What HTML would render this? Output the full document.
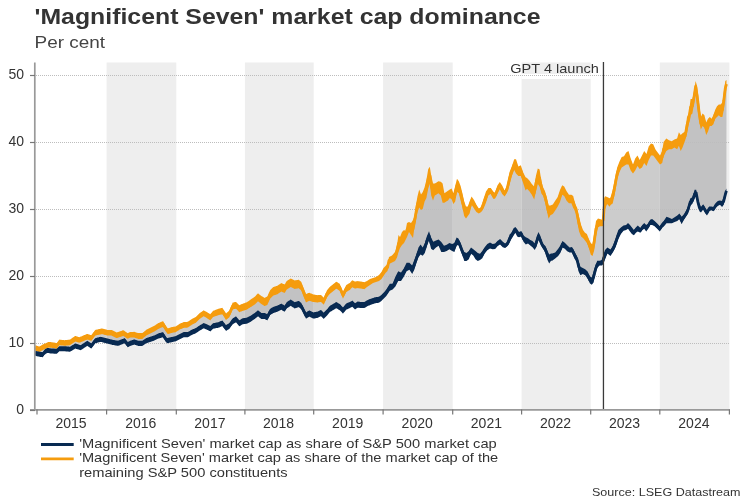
<!DOCTYPE html>
<html><head><meta charset="utf-8"><style>
html,body{margin:0;padding:0;background:#fff;}
body{width:750px;height:500px;overflow:hidden;position:relative;}
svg{position:absolute;left:0;top:0;will-change:transform;}
text{font-family:"Liberation Sans",Arial,sans-serif;}
</style></head><body>
<svg width="750" height="500" viewBox="0 0 750 500">
<rect width="750" height="500" fill="#fff"/>
<text x="34.5" y="23.8" font-size="22.5" font-weight="bold" fill="#333" textLength="506" lengthAdjust="spacingAndGlyphs">'Magnificent Seven' market cap dominance</text>
<text x="34.5" y="47.6" font-size="16.3" fill="#444" textLength="70.5" lengthAdjust="spacingAndGlyphs">Per cent</text>
<rect x="106.6" y="62.5" width="69.7" height="347.0" fill="#eeeeee"/>
<rect x="244.9" y="62.5" width="68.8" height="347.0" fill="#eeeeee"/>
<rect x="383.1" y="62.5" width="69.6" height="347.0" fill="#eeeeee"/>
<rect x="521.6" y="62.5" width="69.1" height="347.0" fill="#eeeeee"/>
<rect x="659.8" y="62.5" width="69.6" height="347.0" fill="#eeeeee"/>

<rect x="521.6" y="74" width="69.1" height="5" fill="#fff"/>
<line x1="36" y1="343.5" x2="730" y2="343.5" stroke="#bdbdbd" stroke-width="1" stroke-dasharray="1,1"/>
<line x1="36" y1="276.5" x2="730" y2="276.5" stroke="#bdbdbd" stroke-width="1" stroke-dasharray="1,1"/>
<line x1="36" y1="209.5" x2="730" y2="209.5" stroke="#bdbdbd" stroke-width="1" stroke-dasharray="1,1"/>
<line x1="36" y1="142.5" x2="730" y2="142.5" stroke="#bdbdbd" stroke-width="1" stroke-dasharray="1,1"/>
<line x1="36" y1="75.5" x2="730" y2="75.5" stroke="#bdbdbd" stroke-width="1" stroke-dasharray="1,1"/>

<defs>
<clipPath id="cb"><rect x="106.6" y="0" width="69.7" height="500"/><rect x="244.9" y="0" width="68.8" height="500"/><rect x="383.1" y="0" width="69.6" height="500"/><rect x="521.6" y="0" width="69.1" height="500"/><rect x="659.8" y="0" width="69.6" height="500"/></clipPath>
<clipPath id="cw"><rect x="0.0" y="0" width="106.6" height="500"/><rect x="176.3" y="0" width="68.6" height="500"/><rect x="313.7" y="0" width="69.4" height="500"/><rect x="452.7" y="0" width="68.9" height="500"/><rect x="590.7" y="0" width="69.1" height="500"/><rect x="729.4" y="0" width="20.6" height="500"/></clipPath>
</defs>
<polygon points="35.3,348.0 39.3,349.3 43.3,347.0 48.7,344.7 54.0,345.3 56.7,346.0 59.3,342.4 64.7,343.0 70.0,342.4 75.3,338.7 79.3,340.0 87.3,336.7 91.3,338.0 95.3,332.7 102.0,331.3 107.3,332.7 111.3,332.7 116.7,335.3 123.3,333.0 127.7,336.0 130.3,334.7 134.3,334.7 138.3,336.0 142.3,336.0 146.3,332.7 150.3,330.7 154.3,328.7 158.3,326.0 163.0,324.0 165.0,327.3 167.7,331.3 171.7,330.0 175.7,329.3 179.7,326.7 183.7,325.0 187.7,324.7 191.7,322.0 195.7,320.0 199.7,316.0 203.7,313.3 206.3,314.7 210.3,317.3 213.0,314.0 218.3,312.0 222.3,311.0 226.0,316.7 229.3,314.0 232.7,306.0 236.0,305.3 239.3,308.7 242.7,307.3 246.7,306.0 250.7,303.3 254.7,300.7 258.0,297.3 261.3,300.0 264.7,302.0 267.3,300.7 270.0,294.7 273.3,291.3 277.3,290.0 281.3,287.3 284.7,288.7 286.7,285.3 290.7,282.7 294.7,284.7 298.7,284.0 301.3,286.2 303.3,291.5 306.0,298.2 309.3,296.8 313.3,298.2 317.3,298.8 321.0,298.5 323.7,301.2 327.0,293.8 329.7,290.5 333.0,287.8 336.3,285.2 339.7,287.2 343.0,295.2 346.3,288.5 349.7,286.5 352.3,283.7 355.0,285.0 357.7,284.6 361.0,285.0 364.3,285.7 367.0,284.0 370.0,282.0 373.0,280.5 376.0,279.5 379.0,278.0 381.5,275.5 383.5,272.0 385.5,269.5 387.5,267.5 389.0,260.5 392.0,259.0 395.0,256.5 397.0,251.2 398.5,243.5 400.0,242.5 402.0,238.5 404.0,236.5 405.5,235.5 407.0,230.0 409.0,227.0 411.0,229.0 413.0,229.0 414.5,221.5 416.0,212.5 417.4,204.6 419.2,198.6 421.0,202.2 422.8,200.4 424.6,194.4 426.4,189.0 428.2,178.8 429.8,175.2 431.2,185.4 433.0,192.0 434.8,189.6 436.6,188.4 438.4,187.2 440.8,188.7 442.6,193.2 444.4,198.0 446.2,196.8 448.0,195.6 449.8,193.8 451.6,193.8 453.4,198.6 455.2,193.8 457.0,185.4 458.8,187.2 460.6,193.2 462.4,200.4 464.2,208.8 466.0,212.4 467.8,211.2 469.6,207.6 471.6,200.6 474.0,204.2 476.4,208.4 478.8,210.9 481.2,209.6 483.6,203.6 486.0,197.0 488.4,191.6 490.8,191.0 493.2,195.2 495.0,195.8 497.4,189.8 499.8,185.6 502.2,189.8 504.6,193.4 507.0,189.2 509.4,179.0 511.8,171.2 514.2,164.6 516.0,166.4 518.4,171.2 520.8,170.6 523.2,177.8 525.6,183.8 527.0,183.4 529.4,185.8 531.8,189.4 534.2,193.0 536.0,183.4 537.8,176.2 539.6,178.0 541.4,187.6 543.2,191.8 545.0,196.6 546.8,203.8 548.6,212.2 550.4,210.4 552.8,209.2 555.2,205.6 557.6,202.0 560.0,196.0 562.2,190.0 564.2,191.2 566.6,196.0 569.0,199.0 571.4,199.0 573.2,202.0 575.6,208.6 577.2,214.5 579.1,224.2 581.1,230.8 583.0,233.9 585.0,236.6 586.9,238.5 588.9,243.7 590.8,248.8 592.5,250.2 594.1,242.4 596.0,228.8 598.0,222.9 599.9,222.6 601.9,222.9 603.2,220.0 604.2,207.0 605.1,202.8 607.1,200.6 609.7,202.4 610.5,201.2 612.7,196.8 615.0,185.5 617.2,173.5 619.5,166.8 621.7,162.2 624.0,161.1 626.2,158.5 628.5,157.8 630.7,164.5 633.0,169.0 635.2,164.5 637.5,160.8 639.7,164.5 642.0,161.5 644.2,157.0 646.5,160.0 648.7,153.2 651.0,149.5 653.2,149.8 655.5,154.0 657.7,157.0 660.0,160.0 662.2,157.0 663.6,149.3 666.3,144.8 669.0,144.8 671.7,145.2 674.4,143.4 677.1,143.9 678.9,139.0 680.7,143.1 682.5,140.3 685.2,135.9 687.0,125.1 688.8,118.8 690.6,107.1 692.4,106.2 694.2,96.3 695.6,86.4 697.2,96.3 699.0,111.6 700.8,123.3 702.6,119.7 704.4,121.5 706.2,128.7 708.0,125.1 709.8,121.5 711.6,122.4 713.4,119.7 715.2,114.3 717.0,111.6 718.8,109.8 720.6,110.7 722.4,109.8 723.8,100.8 725.3,88.2 726.5,84.2 726.4,190.8 725.3,194.6 723.7,201.1 722.1,204.1 719.9,202.7 717.8,203.5 715.6,205.6 713.5,209.2 711.3,208.3 709.1,208.9 707.0,212.9 705.4,210.8 703.2,206.8 701.0,209.7 699.4,207.6 697.8,201.6 696.2,192.9 694.6,194.1 692.4,200.6 690.2,202.2 688.1,209.7 685.9,214.0 683.8,217.3 681.6,220.5 679.4,216.2 677.3,218.3 674.6,219.7 671.9,221.1 669.2,220.5 666.5,219.9 663.8,223.7 662.4,224.9 659.8,228.8 657.2,226.2 654.6,223.6 652.1,221.9 650.1,222.3 648.2,226.2 646.2,228.2 644.3,225.9 642.3,227.5 640.4,230.4 637.8,228.4 635.8,230.1 633.9,232.7 631.9,230.8 630.0,228.2 628.0,225.9 626.1,227.5 623.5,228.1 620.9,230.8 618.3,234.6 615.7,242.4 613.1,248.8 610.5,252.8 607.4,250.6 605.0,254.8 603.3,259.5 602.0,262.8 599.6,263.2 597.2,264.4 595.4,269.8 593.6,277.0 591.8,281.2 590.0,280.0 587.6,275.2 585.2,272.2 582.8,271.0 580.4,271.0 578.6,266.2 576.8,259.0 574.4,254.8 572.0,249.7 569.6,250.0 567.2,248.2 564.8,245.8 562.4,244.3 560.6,248.8 558.2,252.4 555.2,255.4 552.2,257.2 551.0,257.1 549.2,258.9 547.4,255.3 545.6,249.9 543.8,247.2 542.0,244.5 540.2,239.6 538.4,235.9 536.6,241.8 534.8,246.8 532.5,244.1 530.3,242.7 528.0,240.9 525.8,240.9 523.5,238.7 521.3,233.7 519.0,234.6 517.2,232.8 515.4,229.9 513.6,231.9 511.4,235.9 509.6,238.6 507.3,244.1 505.1,245.8 502.8,244.5 500.1,241.8 497.4,243.6 495.2,246.3 492.7,246.6 490.0,245.5 487.3,247.1 484.5,250.7 482.3,254.7 480.0,257.0 477.8,256.9 475.5,255.1 473.3,252.4 471.0,250.7 468.8,255.1 466.5,256.9 464.3,256.5 462.5,252.0 460.7,247.1 458.4,241.7 456.6,241.6 454.4,247.5 452.1,247.5 449.4,246.2 446.7,247.9 444.0,248.8 441.3,247.1 438.6,242.6 436.0,243.9 433.2,246.0 431.1,243.2 429.0,235.9 426.9,241.1 424.8,248.1 422.7,251.6 420.6,249.5 418.5,252.3 416.4,258.6 414.3,264.9 412.2,269.8 409.4,266.3 406.6,267.0 403.8,272.6 401.0,276.8 398.2,276.1 395.4,281.7 392.6,286.6 389.8,287.3 386.3,292.8 384.3,295.0 381.7,297.7 379.0,299.7 375.0,300.3 371.0,301.7 367.7,303.0 364.3,305.0 361.0,305.0 357.7,304.6 355.0,306.3 352.3,303.7 349.7,305.1 346.3,306.5 343.0,310.5 339.7,307.1 336.3,305.1 333.0,307.1 329.7,309.1 327.0,312.5 323.7,315.8 321.0,313.1 317.3,314.8 313.3,315.5 309.3,313.5 306.0,315.5 303.3,310.1 301.3,306.1 298.7,304.0 294.7,305.3 290.7,302.7 286.7,305.3 284.7,308.7 281.3,306.7 277.3,308.7 273.3,310.0 270.0,312.0 267.3,317.3 264.7,316.0 261.3,316.0 258.0,313.3 254.7,316.0 250.7,318.7 246.7,320.7 242.7,321.3 239.3,323.3 236.0,319.3 232.7,321.3 229.3,326.0 226.0,328.0 222.3,323.3 218.3,325.0 213.0,326.0 210.3,328.7 206.3,326.7 203.7,325.7 199.7,328.0 195.7,330.7 191.7,332.4 187.7,334.7 183.7,334.7 179.7,336.7 175.7,338.7 171.7,339.6 167.0,340.7 165.0,338.0 163.0,334.7 158.3,336.0 154.3,338.0 150.3,339.3 146.3,340.7 142.3,343.3 138.3,343.3 134.3,342.0 130.3,343.3 127.7,344.7 124.7,340.7 118.0,343.3 112.7,342.4 107.3,341.0 100.7,339.3 95.3,340.7 91.3,346.0 87.3,343.3 80.7,347.7 75.3,346.0 70.0,349.3 64.7,348.7 59.3,348.7 56.7,351.3 51.3,351.0 47.3,350.4 44.7,352.0 42.7,354.7 38.0,354.0 35.3,353.3" fill="#c6c6c7" fill-opacity="0.9" clip-path="url(#cw)"/>
<polygon points="35.3,348.0 39.3,349.3 43.3,347.0 48.7,344.7 54.0,345.3 56.7,346.0 59.3,342.4 64.7,343.0 70.0,342.4 75.3,338.7 79.3,340.0 87.3,336.7 91.3,338.0 95.3,332.7 102.0,331.3 107.3,332.7 111.3,332.7 116.7,335.3 123.3,333.0 127.7,336.0 130.3,334.7 134.3,334.7 138.3,336.0 142.3,336.0 146.3,332.7 150.3,330.7 154.3,328.7 158.3,326.0 163.0,324.0 165.0,327.3 167.7,331.3 171.7,330.0 175.7,329.3 179.7,326.7 183.7,325.0 187.7,324.7 191.7,322.0 195.7,320.0 199.7,316.0 203.7,313.3 206.3,314.7 210.3,317.3 213.0,314.0 218.3,312.0 222.3,311.0 226.0,316.7 229.3,314.0 232.7,306.0 236.0,305.3 239.3,308.7 242.7,307.3 246.7,306.0 250.7,303.3 254.7,300.7 258.0,297.3 261.3,300.0 264.7,302.0 267.3,300.7 270.0,294.7 273.3,291.3 277.3,290.0 281.3,287.3 284.7,288.7 286.7,285.3 290.7,282.7 294.7,284.7 298.7,284.0 301.3,286.2 303.3,291.5 306.0,298.2 309.3,296.8 313.3,298.2 317.3,298.8 321.0,298.5 323.7,301.2 327.0,293.8 329.7,290.5 333.0,287.8 336.3,285.2 339.7,287.2 343.0,295.2 346.3,288.5 349.7,286.5 352.3,283.7 355.0,285.0 357.7,284.6 361.0,285.0 364.3,285.7 367.0,284.0 370.0,282.0 373.0,280.5 376.0,279.5 379.0,278.0 381.5,275.5 383.5,272.0 385.5,269.5 387.5,267.5 389.0,260.5 392.0,259.0 395.0,256.5 397.0,251.2 398.5,243.5 400.0,242.5 402.0,238.5 404.0,236.5 405.5,235.5 407.0,230.0 409.0,227.0 411.0,229.0 413.0,229.0 414.5,221.5 416.0,212.5 417.4,204.6 419.2,198.6 421.0,202.2 422.8,200.4 424.6,194.4 426.4,189.0 428.2,178.8 429.8,175.2 431.2,185.4 433.0,192.0 434.8,189.6 436.6,188.4 438.4,187.2 440.8,188.7 442.6,193.2 444.4,198.0 446.2,196.8 448.0,195.6 449.8,193.8 451.6,193.8 453.4,198.6 455.2,193.8 457.0,185.4 458.8,187.2 460.6,193.2 462.4,200.4 464.2,208.8 466.0,212.4 467.8,211.2 469.6,207.6 471.6,200.6 474.0,204.2 476.4,208.4 478.8,210.9 481.2,209.6 483.6,203.6 486.0,197.0 488.4,191.6 490.8,191.0 493.2,195.2 495.0,195.8 497.4,189.8 499.8,185.6 502.2,189.8 504.6,193.4 507.0,189.2 509.4,179.0 511.8,171.2 514.2,164.6 516.0,166.4 518.4,171.2 520.8,170.6 523.2,177.8 525.6,183.8 527.0,183.4 529.4,185.8 531.8,189.4 534.2,193.0 536.0,183.4 537.8,176.2 539.6,178.0 541.4,187.6 543.2,191.8 545.0,196.6 546.8,203.8 548.6,212.2 550.4,210.4 552.8,209.2 555.2,205.6 557.6,202.0 560.0,196.0 562.2,190.0 564.2,191.2 566.6,196.0 569.0,199.0 571.4,199.0 573.2,202.0 575.6,208.6 577.2,214.5 579.1,224.2 581.1,230.8 583.0,233.9 585.0,236.6 586.9,238.5 588.9,243.7 590.8,248.8 592.5,250.2 594.1,242.4 596.0,228.8 598.0,222.9 599.9,222.6 601.9,222.9 603.2,220.0 604.2,207.0 605.1,202.8 607.1,200.6 609.7,202.4 610.5,201.2 612.7,196.8 615.0,185.5 617.2,173.5 619.5,166.8 621.7,162.2 624.0,161.1 626.2,158.5 628.5,157.8 630.7,164.5 633.0,169.0 635.2,164.5 637.5,160.8 639.7,164.5 642.0,161.5 644.2,157.0 646.5,160.0 648.7,153.2 651.0,149.5 653.2,149.8 655.5,154.0 657.7,157.0 660.0,160.0 662.2,157.0 663.6,149.3 666.3,144.8 669.0,144.8 671.7,145.2 674.4,143.4 677.1,143.9 678.9,139.0 680.7,143.1 682.5,140.3 685.2,135.9 687.0,125.1 688.8,118.8 690.6,107.1 692.4,106.2 694.2,96.3 695.6,86.4 697.2,96.3 699.0,111.6 700.8,123.3 702.6,119.7 704.4,121.5 706.2,128.7 708.0,125.1 709.8,121.5 711.6,122.4 713.4,119.7 715.2,114.3 717.0,111.6 718.8,109.8 720.6,110.7 722.4,109.8 723.8,100.8 725.3,88.2 726.5,84.2 726.4,190.8 725.3,194.6 723.7,201.1 722.1,204.1 719.9,202.7 717.8,203.5 715.6,205.6 713.5,209.2 711.3,208.3 709.1,208.9 707.0,212.9 705.4,210.8 703.2,206.8 701.0,209.7 699.4,207.6 697.8,201.6 696.2,192.9 694.6,194.1 692.4,200.6 690.2,202.2 688.1,209.7 685.9,214.0 683.8,217.3 681.6,220.5 679.4,216.2 677.3,218.3 674.6,219.7 671.9,221.1 669.2,220.5 666.5,219.9 663.8,223.7 662.4,224.9 659.8,228.8 657.2,226.2 654.6,223.6 652.1,221.9 650.1,222.3 648.2,226.2 646.2,228.2 644.3,225.9 642.3,227.5 640.4,230.4 637.8,228.4 635.8,230.1 633.9,232.7 631.9,230.8 630.0,228.2 628.0,225.9 626.1,227.5 623.5,228.1 620.9,230.8 618.3,234.6 615.7,242.4 613.1,248.8 610.5,252.8 607.4,250.6 605.0,254.8 603.3,259.5 602.0,262.8 599.6,263.2 597.2,264.4 595.4,269.8 593.6,277.0 591.8,281.2 590.0,280.0 587.6,275.2 585.2,272.2 582.8,271.0 580.4,271.0 578.6,266.2 576.8,259.0 574.4,254.8 572.0,249.7 569.6,250.0 567.2,248.2 564.8,245.8 562.4,244.3 560.6,248.8 558.2,252.4 555.2,255.4 552.2,257.2 551.0,257.1 549.2,258.9 547.4,255.3 545.6,249.9 543.8,247.2 542.0,244.5 540.2,239.6 538.4,235.9 536.6,241.8 534.8,246.8 532.5,244.1 530.3,242.7 528.0,240.9 525.8,240.9 523.5,238.7 521.3,233.7 519.0,234.6 517.2,232.8 515.4,229.9 513.6,231.9 511.4,235.9 509.6,238.6 507.3,244.1 505.1,245.8 502.8,244.5 500.1,241.8 497.4,243.6 495.2,246.3 492.7,246.6 490.0,245.5 487.3,247.1 484.5,250.7 482.3,254.7 480.0,257.0 477.8,256.9 475.5,255.1 473.3,252.4 471.0,250.7 468.8,255.1 466.5,256.9 464.3,256.5 462.5,252.0 460.7,247.1 458.4,241.7 456.6,241.6 454.4,247.5 452.1,247.5 449.4,246.2 446.7,247.9 444.0,248.8 441.3,247.1 438.6,242.6 436.0,243.9 433.2,246.0 431.1,243.2 429.0,235.9 426.9,241.1 424.8,248.1 422.7,251.6 420.6,249.5 418.5,252.3 416.4,258.6 414.3,264.9 412.2,269.8 409.4,266.3 406.6,267.0 403.8,272.6 401.0,276.8 398.2,276.1 395.4,281.7 392.6,286.6 389.8,287.3 386.3,292.8 384.3,295.0 381.7,297.7 379.0,299.7 375.0,300.3 371.0,301.7 367.7,303.0 364.3,305.0 361.0,305.0 357.7,304.6 355.0,306.3 352.3,303.7 349.7,305.1 346.3,306.5 343.0,310.5 339.7,307.1 336.3,305.1 333.0,307.1 329.7,309.1 327.0,312.5 323.7,315.8 321.0,313.1 317.3,314.8 313.3,315.5 309.3,313.5 306.0,315.5 303.3,310.1 301.3,306.1 298.7,304.0 294.7,305.3 290.7,302.7 286.7,305.3 284.7,308.7 281.3,306.7 277.3,308.7 273.3,310.0 270.0,312.0 267.3,317.3 264.7,316.0 261.3,316.0 258.0,313.3 254.7,316.0 250.7,318.7 246.7,320.7 242.7,321.3 239.3,323.3 236.0,319.3 232.7,321.3 229.3,326.0 226.0,328.0 222.3,323.3 218.3,325.0 213.0,326.0 210.3,328.7 206.3,326.7 203.7,325.7 199.7,328.0 195.7,330.7 191.7,332.4 187.7,334.7 183.7,334.7 179.7,336.7 175.7,338.7 171.7,339.6 167.0,340.7 165.0,338.0 163.0,334.7 158.3,336.0 154.3,338.0 150.3,339.3 146.3,340.7 142.3,343.3 138.3,343.3 134.3,342.0 130.3,343.3 127.7,344.7 124.7,340.7 118.0,343.3 112.7,342.4 107.3,341.0 100.7,339.3 95.3,340.7 91.3,346.0 87.3,343.3 80.7,347.7 75.3,346.0 70.0,349.3 64.7,348.7 59.3,348.7 56.7,351.3 51.3,351.0 47.3,350.4 44.7,352.0 42.7,354.7 38.0,354.0 35.3,353.3" fill="#bdbdbe" fill-opacity="0.9" clip-path="url(#cb)"/>
<polygon points="35.3,345.2 35.8,345.4 36.3,345.5 36.8,345.7 37.3,345.9 37.8,346.0 38.3,346.2 38.8,346.4 39.3,346.5 39.8,346.2 40.3,345.9 40.8,345.7 41.3,345.4 41.8,345.1 42.3,344.8 42.8,344.5 43.3,344.2 43.8,344.0 44.3,343.8 44.8,343.6 45.3,343.4 45.8,343.2 46.3,342.9 46.8,342.7 47.3,342.5 47.8,342.3 48.3,342.1 48.7,341.9 48.8,341.9 49.3,342.0 49.8,342.0 50.3,342.1 50.8,342.1 51.3,342.2 51.8,342.3 52.3,342.3 52.8,342.4 53.3,342.4 53.8,342.5 54.0,342.5 54.3,342.6 54.8,342.7 55.3,342.8 55.8,343.0 56.3,343.1 56.7,343.2 56.8,343.1 57.3,342.4 57.8,341.7 58.3,341.0 58.8,340.3 59.3,339.6 59.8,339.7 60.3,339.7 60.8,339.8 61.3,339.8 61.8,339.9 62.3,339.9 62.8,340.0 63.3,340.0 63.8,340.1 64.3,340.2 64.7,340.2 64.8,340.2 65.3,340.1 65.8,340.1 66.3,340.0 66.8,340.0 67.3,339.9 67.8,339.8 68.3,339.8 68.8,339.7 69.3,339.7 69.8,339.6 70.0,339.6 70.3,339.4 70.8,339.0 71.3,338.7 71.8,338.3 72.3,338.0 72.8,337.6 73.3,337.3 73.8,336.9 74.3,336.6 74.8,336.2 75.3,335.9 75.8,336.1 76.3,336.2 76.8,336.4 77.3,336.5 77.8,336.7 78.3,336.9 78.8,337.0 79.3,337.2 79.8,337.0 80.3,336.8 80.8,336.6 81.3,336.4 81.8,336.2 82.3,336.0 82.8,335.7 83.3,335.5 83.8,335.3 84.3,335.1 84.8,334.9 85.3,334.7 85.8,334.5 86.3,334.3 86.8,334.1 87.3,333.9 87.8,334.0 88.3,334.2 88.8,334.4 89.3,334.5 89.8,334.7 90.3,334.9 90.8,335.0 91.3,335.2 91.8,334.5 92.3,333.9 92.8,333.2 93.3,332.5 93.8,331.9 94.3,331.2 94.8,330.5 95.3,329.9 95.8,329.8 96.3,329.7 96.8,329.6 97.3,329.5 97.8,329.4 98.3,329.2 98.8,329.1 99.3,329.0 99.8,328.9 100.3,328.8 100.8,328.7 101.3,328.6 101.8,328.5 102.0,328.5 102.3,328.6 102.8,328.7 103.3,328.8 103.8,328.9 104.3,329.1 104.8,329.2 105.3,329.3 105.8,329.5 106.3,329.6 106.8,329.7 107.3,329.9 107.8,329.9 108.3,329.9 108.8,329.9 109.3,329.9 109.8,329.9 110.3,329.9 110.8,329.9 111.3,329.9 111.8,330.1 112.3,330.3 112.8,330.6 113.3,330.8 113.8,331.1 114.3,331.3 114.8,331.5 115.3,331.8 115.8,332.0 116.3,332.3 116.7,332.5 116.8,332.4 117.3,332.3 117.8,332.1 118.3,331.9 118.8,331.7 119.3,331.6 119.8,331.4 120.3,331.2 120.8,331.0 121.3,330.9 121.8,330.7 122.3,330.5 122.8,330.3 123.3,330.2 123.8,330.5 124.3,330.8 124.8,331.2 125.3,331.5 125.8,331.9 126.3,332.2 126.8,332.5 127.3,332.9 127.7,333.2 127.8,333.1 128.3,332.9 128.8,332.6 129.3,332.4 129.8,332.1 130.3,331.9 130.8,331.9 131.3,331.9 131.8,331.9 132.3,331.9 132.8,331.9 133.3,331.9 133.8,331.8 134.3,331.8 134.8,332.0 135.3,332.2 135.8,332.3 136.3,332.5 136.8,332.7 137.3,332.8 137.8,333.0 138.3,333.1 138.8,333.1 139.3,333.1 139.8,333.1 140.3,333.1 140.8,333.1 141.3,333.1 141.8,333.1 142.3,333.1 142.8,332.7 143.3,332.3 143.8,331.9 144.3,331.5 144.8,331.1 145.3,330.7 145.8,330.3 146.3,329.8 146.8,329.6 147.3,329.3 147.8,329.1 148.3,328.8 148.8,328.6 149.3,328.3 149.8,328.1 150.3,327.8 150.8,327.6 151.3,327.3 151.8,327.1 152.3,326.8 152.8,326.6 153.3,326.3 153.8,326.1 154.3,325.8 154.8,325.5 155.3,325.2 155.8,324.8 156.3,324.5 156.8,324.1 157.3,323.8 157.8,323.5 158.3,323.1 158.8,322.9 159.3,322.7 159.8,322.5 160.3,322.3 160.8,322.1 161.3,321.9 161.8,321.6 162.3,321.4 162.8,321.2 163.0,321.1 163.3,321.6 163.8,322.4 164.3,323.3 164.8,324.1 165.0,324.4 165.3,324.9 165.8,325.6 166.3,326.4 166.8,327.1 167.3,327.8 167.7,328.4 167.8,328.4 168.3,328.2 168.8,328.1 169.3,327.9 169.8,327.7 170.3,327.6 170.8,327.4 171.3,327.3 171.7,327.1 171.8,327.1 172.3,327.0 172.8,326.9 173.3,326.8 173.8,326.8 174.3,326.7 174.8,326.6 175.3,326.5 175.7,326.4 175.8,326.4 176.3,326.0 176.8,325.7 177.3,325.4 177.8,325.1 178.3,324.7 178.8,324.4 179.3,324.1 179.7,323.8 179.8,323.8 180.3,323.6 180.8,323.3 181.3,323.1 181.8,322.9 182.3,322.7 182.8,322.5 183.3,322.3 183.7,322.1 183.8,322.1 184.3,322.1 184.8,322.0 185.3,322.0 185.8,322.0 186.3,321.9 186.8,321.9 187.3,321.8 187.7,321.8 187.8,321.7 188.3,321.4 188.8,321.1 189.3,320.7 189.8,320.4 190.3,320.1 190.8,319.7 191.3,319.4 191.7,319.1 191.8,319.1 192.3,318.8 192.8,318.6 193.3,318.3 193.8,318.1 194.3,317.8 194.8,317.6 195.3,317.3 195.7,317.1 195.8,317.0 196.3,316.5 196.8,316.0 197.3,315.5 197.8,315.0 198.3,314.5 198.8,314.0 199.3,313.5 199.7,313.1 199.8,313.0 200.3,312.7 200.8,312.3 201.3,312.0 201.8,311.7 202.3,311.3 202.8,311.0 203.3,310.6 203.7,310.3 203.8,310.4 204.3,310.7 204.8,310.9 205.3,311.2 205.8,311.4 206.3,311.7 206.8,312.0 207.3,312.3 207.8,312.7 208.3,313.0 208.8,313.3 209.3,313.6 209.8,313.9 210.3,314.2 210.8,313.6 211.3,313.0 211.8,312.4 212.3,311.8 212.8,311.2 213.0,310.9 213.3,310.8 213.8,310.6 214.3,310.4 214.8,310.2 215.3,310.0 215.8,309.8 216.3,309.6 216.8,309.4 217.3,309.2 217.8,309.0 218.3,308.8 218.8,308.7 219.3,308.6 219.8,308.4 220.3,308.3 220.8,308.2 221.3,308.0 221.8,307.9 222.3,307.8 222.8,308.5 223.3,309.3 223.8,310.1 224.3,310.8 224.8,311.6 225.3,312.3 225.8,313.1 226.0,313.4 226.3,313.2 226.8,312.7 227.3,312.3 227.8,311.9 228.3,311.5 228.8,311.1 229.3,310.7 229.8,309.5 230.3,308.3 230.8,307.1 231.3,305.9 231.8,304.7 232.3,303.6 232.7,302.6 232.8,302.6 233.3,302.5 233.8,302.4 234.3,302.2 234.8,302.1 235.3,302.0 235.8,301.9 236.0,301.9 236.3,302.2 236.8,302.7 237.3,303.2 237.8,303.7 238.3,304.2 238.8,304.7 239.3,305.2 239.8,305.0 240.3,304.8 240.8,304.6 241.3,304.3 241.8,304.1 242.3,303.9 242.7,303.7 242.8,303.7 243.3,303.5 243.8,303.3 244.3,303.2 244.8,303.0 245.3,302.8 245.8,302.6 246.3,302.5 246.7,302.3 246.8,302.3 247.3,301.9 247.8,301.6 248.3,301.2 248.8,300.9 249.3,300.5 249.8,300.2 250.3,299.8 250.7,299.5 250.8,299.5 251.3,299.1 251.8,298.8 252.3,298.5 252.8,298.1 253.3,297.8 253.8,297.4 254.3,297.1 254.7,296.8 254.8,296.7 255.3,296.2 255.8,295.7 256.3,295.1 256.8,294.6 257.3,294.1 257.8,293.6 258.0,293.4 258.3,293.6 258.8,294.0 259.3,294.4 259.8,294.8 260.3,295.2 260.8,295.6 261.3,296.0 261.8,296.2 262.3,296.5 262.8,296.8 263.3,297.1 263.8,297.4 264.3,297.7 264.7,297.9 264.8,297.8 265.3,297.6 265.8,297.3 266.3,297.0 266.8,296.8 267.3,296.5 267.8,295.4 268.3,294.3 268.8,293.1 269.3,292.0 269.8,290.9 270.0,290.4 270.3,290.1 270.8,289.6 271.3,289.1 271.8,288.6 272.3,288.1 272.8,287.6 273.3,287.1 273.8,286.9 274.3,286.7 274.8,286.6 275.3,286.4 275.8,286.2 276.3,286.1 276.8,285.9 277.3,285.8 277.8,285.4 278.3,285.1 278.8,284.7 279.3,284.4 279.8,284.1 280.3,283.7 280.8,283.4 281.3,283.1 281.8,283.3 282.3,283.5 282.8,283.7 283.3,283.9 283.8,284.1 284.3,284.3 284.7,284.4 284.8,284.3 285.3,283.4 285.8,282.6 286.3,281.7 286.7,281.1 286.8,281.0 287.3,280.7 287.8,280.3 288.3,280.0 288.8,279.7 289.3,279.4 289.8,279.0 290.3,278.7 290.7,278.4 290.8,278.5 291.3,278.8 291.8,279.0 292.3,279.2 292.8,279.5 293.3,279.8 293.8,280.0 294.3,280.2 294.7,280.4 294.8,280.4 295.3,280.3 295.8,280.3 296.3,280.2 296.8,280.1 297.3,280.0 297.8,279.9 298.3,279.8 298.7,279.8 298.8,279.8 299.3,280.3 299.8,280.7 300.3,281.1 300.8,281.5 301.3,281.9 301.8,283.3 302.3,284.6 302.8,285.9 303.3,287.2 303.8,288.5 304.3,289.7 304.8,291.0 305.3,292.2 305.8,293.5 306.0,294.0 306.3,293.9 306.8,293.7 307.3,293.5 307.8,293.3 308.3,293.1 308.8,293.0 309.3,292.8 309.8,293.0 310.3,293.2 310.8,293.4 311.3,293.6 311.8,293.8 312.3,294.0 312.8,294.2 313.3,294.4 313.8,294.5 314.3,294.6 314.8,294.7 315.3,294.8 315.8,294.9 316.3,295.0 316.8,295.1 317.3,295.2 317.8,295.1 318.3,295.1 318.8,295.1 319.3,295.1 319.8,295.1 320.3,295.1 320.8,295.0 321.0,295.0 321.3,295.3 321.8,295.8 322.3,296.3 322.8,296.8 323.3,297.3 323.7,297.7 323.8,297.5 324.3,296.4 324.8,295.2 325.3,294.1 325.8,293.0 326.3,291.9 326.8,290.7 327.0,290.3 327.3,289.9 327.8,289.3 328.3,288.7 328.8,288.1 329.3,287.5 329.7,287.0 329.8,286.9 330.3,286.5 330.8,286.1 331.3,285.7 331.8,285.3 332.3,284.9 332.8,284.5 333.0,284.3 333.3,284.1 333.8,283.7 334.3,283.3 334.8,282.9 335.3,282.5 335.8,282.1 336.3,281.7 336.8,282.0 337.3,282.3 337.8,282.6 338.3,282.9 338.8,283.2 339.3,283.5 339.7,283.7 339.8,283.9 340.3,285.2 340.8,286.4 341.3,287.6 341.8,288.8 342.3,290.0 342.8,291.2 343.0,291.7 343.3,291.1 343.8,290.1 344.3,289.1 344.8,288.0 345.3,287.0 345.8,286.0 346.3,285.0 346.8,284.7 347.3,284.4 347.8,284.1 348.3,283.8 348.8,283.5 349.3,283.2 349.7,283.0 349.8,282.9 350.3,282.4 350.8,281.8 351.3,281.3 351.8,280.7 352.3,280.2 352.8,280.4 353.3,280.7 353.8,280.9 354.3,281.2 354.8,281.4 355.0,281.5 355.3,281.5 355.8,281.4 356.3,281.3 356.8,281.2 357.3,281.2 357.7,281.1 357.8,281.1 358.3,281.2 358.8,281.2 359.3,281.3 359.8,281.4 360.3,281.4 360.8,281.5 361.0,281.5 361.3,281.6 361.8,281.7 362.3,281.8 362.8,281.9 363.3,282.0 363.8,282.1 364.3,282.2 367.0,281.0 370.0,279.0 373.0,278.0 376.0,277.0 379.0,275.0 381.5,272.0 383.5,268.0 385.5,266.0 387.5,264.0 389.0,257.0 392.0,255.5 395.0,252.0 397.0,245.0 398.5,235.0 400.0,237.0 402.0,232.0 404.0,230.0 405.5,231.0 407.0,223.0 409.0,222.0 411.0,223.0 413.0,220.0 414.5,216.0 416.0,205.0 417.4,196.8 419.2,189.6 421.0,194.4 422.8,192.0 424.6,187.2 426.4,180.0 428.2,169.2 429.8,166.8 431.2,175.2 433.0,183.6 434.8,183.6 436.6,182.4 438.4,181.2 440.8,181.8 442.6,183.6 444.4,193.2 446.2,192.0 448.0,190.8 449.8,189.6 451.6,188.4 453.4,193.2 455.2,186.0 457.0,178.8 458.8,181.2 460.6,186.0 462.4,193.2 464.2,201.6 466.0,206.4 467.8,206.4 469.6,201.6 471.6,196.4 474.0,200.0 476.4,204.8 478.8,208.4 481.2,207.2 483.6,198.8 486.0,191.6 488.4,188.0 490.8,188.0 493.2,191.6 495.0,192.8 497.4,185.6 499.8,182.0 502.2,185.6 504.6,190.4 507.0,185.6 509.4,172.4 511.8,166.4 514.2,159.2 516.0,159.2 518.4,166.4 520.8,165.2 523.2,172.4 525.6,177.2 527.0,178.0 529.4,180.4 531.8,184.0 534.2,186.4 536.0,175.6 537.8,168.4 539.6,169.6 541.4,181.6 543.2,187.6 545.0,191.2 546.8,197.2 548.6,205.6 550.4,205.6 552.8,204.4 555.2,200.8 557.6,197.2 560.0,190.0 562.2,185.2 564.2,186.4 566.6,191.2 569.0,194.8 571.4,194.8 573.2,196.0 575.6,205.6 577.2,208.0 579.1,217.0 581.1,224.9 583.0,230.0 585.0,232.7 586.9,234.0 588.9,239.2 590.8,243.0 592.5,244.4 594.1,234.0 596.0,221.0 598.0,218.4 599.9,219.0 601.9,219.7 603.2,214.0 604.2,198.0 605.1,196.3 607.1,197.0 609.7,198.2 610.5,197.5 612.7,190.0 615.0,178.0 617.2,167.5 619.5,161.5 621.7,157.0 624.0,156.2 626.2,152.5 628.5,151.0 630.7,158.5 633.0,164.5 635.2,158.5 637.5,155.5 639.7,160.0 642.0,155.5 644.2,151.0 646.5,154.0 648.7,146.5 651.0,143.5 653.2,144.2 655.5,149.5 657.7,152.5 660.0,155.5 662.2,151.0 663.6,142.1 666.3,138.5 669.0,140.3 671.7,141.2 674.4,139.4 677.1,138.5 678.9,132.3 680.7,135.0 682.5,133.2 685.2,131.4 687.0,117.0 688.8,113.4 690.6,99.0 692.4,99.0 694.2,90.0 695.6,81.0 697.2,86.4 699.0,102.6 700.8,117.0 702.6,113.4 704.4,115.2 706.2,122.4 708.0,118.8 709.8,117.0 711.6,118.8 713.4,115.2 715.2,109.8 717.0,106.2 718.8,104.4 720.6,104.4 722.4,102.6 723.8,91.8 725.3,81.0 726.5,80.1 726.5,88.2 725.3,95.4 723.8,109.8 722.4,117.0 720.6,117.0 718.8,115.2 717.0,117.0 715.2,118.8 713.4,124.2 711.6,126.0 709.8,126.0 708.0,131.4 706.2,135.0 704.4,127.8 702.6,126.0 700.8,129.6 699.0,120.6 697.2,106.2 695.6,91.8 694.2,102.6 692.4,113.4 690.6,115.2 688.8,124.2 687.0,133.2 685.2,140.3 682.5,147.5 680.7,151.1 678.9,145.7 677.1,149.3 674.4,147.5 671.7,149.3 669.0,149.3 666.3,151.1 663.6,156.5 662.2,163.0 660.0,164.5 657.7,161.5 655.5,158.5 653.2,155.5 651.0,155.5 648.7,160.0 646.5,166.0 644.2,163.0 642.0,167.5 639.7,169.0 637.5,166.0 635.2,170.5 633.0,173.5 630.7,170.5 628.5,164.5 626.2,164.5 624.0,166.0 621.7,167.5 619.5,172.0 617.2,179.5 615.0,193.0 612.7,203.5 610.5,205.0 609.7,206.7 607.1,204.1 605.1,209.3 604.2,216.0 603.2,226.0 601.9,226.2 599.9,226.2 598.0,227.5 596.0,236.6 594.1,250.8 592.5,256.0 590.8,254.7 588.9,248.2 586.9,243.0 585.0,240.5 583.0,237.9 581.1,236.6 579.1,231.4 577.2,221.0 575.6,211.6 573.2,208.0 571.4,203.2 569.0,203.2 566.6,200.8 564.2,196.0 562.2,194.8 560.0,202.0 557.6,206.8 555.2,210.4 552.8,214.0 550.4,215.2 548.6,218.8 546.8,210.4 545.0,202.0 543.2,196.0 541.4,193.6 539.6,186.4 537.8,184.0 536.0,191.2 534.2,199.6 531.8,194.8 529.4,191.2 527.0,188.8 525.6,190.4 523.2,183.2 520.8,176.0 518.4,176.0 516.0,173.6 514.2,170.0 511.8,176.0 509.4,185.6 507.0,192.8 504.6,196.4 502.2,194.0 499.8,189.2 497.4,194.0 495.0,198.8 493.2,198.8 490.8,194.0 488.4,195.2 486.0,202.4 483.6,208.4 481.2,212.0 478.8,213.5 476.4,212.0 474.0,208.4 471.6,204.8 469.6,213.6 467.8,216.0 466.0,218.4 464.2,216.0 462.4,207.6 460.6,200.4 458.8,193.2 457.0,192.0 455.2,201.6 453.4,204.0 451.6,199.2 449.8,198.0 448.0,200.4 446.2,201.6 444.4,202.8 442.6,202.8 440.8,195.6 438.4,193.2 436.6,194.4 434.8,195.6 433.0,200.4 431.2,195.6 429.8,183.6 428.2,188.4 426.4,198.0 424.6,201.6 422.8,208.8 421.0,210.0 419.2,207.6 417.4,212.4 416.0,220.0 414.5,227.0 413.0,238.0 411.0,235.0 409.0,232.0 407.0,237.0 405.5,240.0 404.0,243.0 402.0,245.0 400.0,248.0 398.5,252.0 397.0,257.5 395.0,261.0 392.0,262.5 389.0,264.0 387.5,271.0 385.5,273.0 383.5,276.0 381.5,279.0 379.0,281.0 376.0,282.0 373.0,283.0 370.0,285.0 367.0,287.0 364.3,289.2 363.8,289.1 363.3,289.0 362.8,288.9 362.3,288.8 361.8,288.7 361.3,288.6 361.0,288.5 360.8,288.5 360.3,288.4 359.8,288.4 359.3,288.3 358.8,288.2 358.3,288.2 357.8,288.1 357.7,288.1 357.3,288.2 356.8,288.2 356.3,288.3 355.8,288.4 355.3,288.5 355.0,288.5 354.8,288.4 354.3,288.2 353.8,287.9 353.3,287.7 352.8,287.4 352.3,287.2 351.8,287.7 351.3,288.3 350.8,288.8 350.3,289.4 349.8,289.9 349.7,290.0 349.3,290.2 348.8,290.5 348.3,290.8 347.8,291.1 347.3,291.4 346.8,291.7 346.3,292.0 345.8,293.0 345.3,294.0 344.8,295.0 344.3,296.1 343.8,297.1 343.3,298.1 343.0,298.7 342.8,298.2 342.3,297.0 341.8,295.8 341.3,294.6 340.8,293.4 340.3,292.2 339.8,290.9 339.7,290.7 339.3,290.5 338.8,290.2 338.3,289.9 337.8,289.6 337.3,289.3 336.8,289.0 336.3,288.7 335.8,289.1 335.3,289.5 334.8,289.9 334.3,290.3 333.8,290.7 333.3,291.1 333.0,291.3 332.8,291.5 332.3,291.9 331.8,292.3 331.3,292.7 330.8,293.1 330.3,293.5 329.8,293.9 329.7,294.0 329.3,294.5 328.8,295.1 328.3,295.7 327.8,296.3 327.3,296.9 327.0,297.3 326.8,297.7 326.3,298.9 325.8,300.0 325.3,301.1 324.8,302.2 324.3,303.4 323.8,304.5 323.7,304.7 323.3,304.3 322.8,303.8 322.3,303.3 321.8,302.8 321.3,302.3 321.0,302.0 320.8,302.0 320.3,302.1 319.8,302.1 319.3,302.2 318.8,302.2 318.3,302.3 317.8,302.4 317.3,302.4 316.8,302.4 316.3,302.3 315.8,302.3 315.3,302.2 314.8,302.2 314.3,302.1 313.8,302.1 313.3,302.0 312.8,301.9 312.3,301.7 311.8,301.6 311.3,301.4 310.8,301.3 310.3,301.1 309.8,301.0 309.3,300.8 308.8,301.1 308.3,301.3 307.8,301.5 307.3,301.8 306.8,302.0 306.3,302.3 306.0,302.4 305.8,301.9 305.3,300.7 304.8,299.5 304.3,298.2 303.8,297.0 303.3,295.8 302.8,294.4 302.3,293.1 301.8,291.8 301.3,290.4 300.8,290.0 300.3,289.6 299.8,289.2 299.3,288.8 298.8,288.3 298.7,288.2 298.3,288.3 297.8,288.4 297.3,288.5 296.8,288.6 296.3,288.7 295.8,288.8 295.3,288.8 294.8,288.9 294.7,288.9 294.3,288.8 293.8,288.5 293.3,288.2 292.8,288.0 292.3,287.8 291.8,287.5 291.3,287.2 290.8,287.0 290.7,286.9 290.3,287.2 289.8,287.5 289.3,287.9 288.8,288.2 288.3,288.5 287.8,288.8 287.3,289.2 286.8,289.5 286.7,289.6 286.3,290.2 285.8,291.1 285.3,291.9 284.8,292.8 284.7,292.9 284.3,292.8 283.8,292.6 283.3,292.4 282.8,292.2 282.3,292.0 281.8,291.8 281.3,291.6 280.8,291.9 280.3,292.2 279.8,292.6 279.3,292.9 278.8,293.2 278.3,293.6 277.8,293.9 277.3,294.2 276.8,294.4 276.3,294.6 275.8,294.7 275.3,294.9 274.8,295.1 274.3,295.2 273.8,295.4 273.3,295.6 272.8,296.1 272.3,296.6 271.8,297.1 271.3,297.6 270.8,298.1 270.3,298.6 270.0,298.9 269.8,299.4 269.3,300.5 268.8,301.6 268.3,302.7 267.8,303.8 267.3,304.9 266.8,305.1 266.3,305.4 265.8,305.6 265.3,305.8 264.8,306.1 264.7,306.1 264.3,305.9 263.8,305.6 263.3,305.3 262.8,305.0 262.3,304.6 261.8,304.3 261.3,304.0 260.8,303.6 260.3,303.2 259.8,302.8 259.3,302.3 258.8,301.9 258.3,301.5 258.0,301.2 257.8,301.5 257.3,302.0 256.8,302.5 256.3,303.0 255.8,303.5 255.3,304.0 254.8,304.5 254.7,304.6 254.3,304.8 253.8,305.1 253.3,305.4 252.8,305.8 252.3,306.1 251.8,306.4 251.3,306.7 250.8,307.0 250.7,307.1 250.3,307.3 249.8,307.7 249.3,308.0 248.8,308.3 248.3,308.6 247.8,309.0 247.3,309.3 246.8,309.6 246.7,309.7 246.3,309.8 245.8,309.9 245.3,310.1 244.8,310.2 244.3,310.4 243.8,310.5 243.3,310.7 242.8,310.8 242.7,310.9 242.3,311.0 241.8,311.2 241.3,311.4 240.8,311.6 240.3,311.8 239.8,312.0 239.3,312.2 238.8,311.7 238.3,311.1 237.8,310.6 237.3,310.1 236.8,309.6 236.3,309.1 236.0,308.7 235.8,308.8 235.3,308.9 234.8,309.0 234.3,309.1 233.8,309.2 233.3,309.3 232.8,309.4 232.7,309.4 232.3,310.3 231.8,311.5 231.3,312.7 230.8,313.8 230.3,315.0 229.8,316.2 229.3,317.3 228.8,317.7 228.3,318.1 227.8,318.5 227.3,318.9 226.8,319.3 226.3,319.7 226.0,320.0 225.8,319.7 225.3,318.9 224.8,318.1 224.3,317.3 223.8,316.6 223.3,315.8 222.8,315.0 222.3,314.2 221.8,314.4 221.3,314.5 220.8,314.6 220.3,314.7 219.8,314.8 219.3,314.9 218.8,315.1 218.3,315.2 217.8,315.4 217.3,315.5 216.8,315.7 216.3,315.9 215.8,316.1 215.3,316.3 214.8,316.4 214.3,316.6 213.8,316.8 213.3,317.0 213.0,317.1 212.8,317.3 212.3,317.9 211.8,318.5 211.3,319.1 210.8,319.8 210.3,320.4 209.8,320.0 209.3,319.7 208.8,319.4 208.3,319.0 207.8,318.7 207.3,318.4 206.8,318.0 206.3,317.7 205.8,317.4 205.3,317.1 204.8,316.9 204.3,316.6 203.8,316.3 203.7,316.3 203.3,316.5 202.8,316.8 202.3,317.2 201.8,317.5 201.3,317.8 200.8,318.2 200.3,318.5 199.8,318.8 199.7,318.9 199.3,319.3 198.8,319.8 198.3,320.3 197.8,320.8 197.3,321.3 196.8,321.8 196.3,322.3 195.8,322.8 195.7,322.9 195.3,323.1 194.8,323.3 194.3,323.6 193.8,323.8 193.3,324.1 192.8,324.3 192.3,324.6 191.8,324.8 191.7,324.9 191.3,325.2 190.8,325.5 190.3,325.8 189.8,326.2 189.3,326.5 188.8,326.8 188.3,327.2 187.8,327.5 187.7,327.6 187.3,327.6 186.8,327.7 186.3,327.7 185.8,327.7 185.3,327.8 184.8,327.8 184.3,327.8 183.8,327.9 183.7,327.9 183.3,328.1 182.8,328.3 182.3,328.5 181.8,328.7 181.3,328.9 180.8,329.1 180.3,329.3 179.8,329.5 179.7,329.6 179.3,329.8 178.8,330.2 178.3,330.5 177.8,330.8 177.3,331.1 176.8,331.5 176.3,331.8 175.8,332.1 175.7,332.2 175.3,332.3 174.8,332.3 174.3,332.4 173.8,332.5 173.3,332.6 172.8,332.7 172.3,332.8 171.8,332.9 171.7,332.9 171.3,333.0 170.8,333.2 170.3,333.3 169.8,333.5 169.3,333.7 168.8,333.8 168.3,334.0 167.8,334.1 167.7,334.2 167.3,333.6 166.8,332.8 166.3,332.1 165.8,331.4 165.3,330.6 165.0,330.2 164.8,329.8 164.3,329.0 163.8,328.2 163.3,327.4 163.0,326.9 162.8,327.0 162.3,327.2 161.8,327.4 161.3,327.6 160.8,327.8 160.3,328.0 159.8,328.2 159.3,328.4 158.8,328.7 158.3,328.9 157.8,329.2 157.3,329.5 156.8,329.9 156.3,330.2 155.8,330.6 155.3,330.9 154.8,331.2 154.3,331.6 153.8,331.8 153.3,332.1 152.8,332.3 152.3,332.6 151.8,332.8 151.3,333.1 150.8,333.3 150.3,333.6 149.8,333.8 149.3,334.1 148.8,334.3 148.3,334.6 147.8,334.8 147.3,335.1 146.8,335.3 146.3,335.6 145.8,336.0 145.3,336.4 144.8,336.8 144.3,337.2 143.8,337.6 143.3,338.0 142.8,338.4 142.3,338.9 141.8,338.9 141.3,338.9 140.8,338.9 140.3,338.9 139.8,338.9 139.3,338.9 138.8,338.9 138.3,338.9 137.8,338.7 137.3,338.5 136.8,338.4 136.3,338.2 135.8,338.0 135.3,337.9 134.8,337.7 134.3,337.6 133.8,337.6 133.3,337.5 132.8,337.5 132.3,337.5 131.8,337.5 131.3,337.5 130.8,337.5 130.3,337.5 129.8,337.8 129.3,338.0 128.8,338.3 128.3,338.5 127.8,338.8 127.7,338.8 127.3,338.6 126.8,338.2 126.3,337.9 125.8,337.5 125.3,337.2 124.8,336.9 124.3,336.5 123.8,336.2 123.3,335.8 122.8,336.0 122.3,336.2 121.8,336.4 121.3,336.5 120.8,336.7 120.3,336.9 119.8,337.1 119.3,337.2 118.8,337.4 118.3,337.6 117.8,337.8 117.3,337.9 116.8,338.1 116.7,338.1 116.3,337.9 115.8,337.7 115.3,337.5 114.8,337.2 114.3,337.0 113.8,336.7 113.3,336.5 112.8,336.3 112.3,336.0 111.8,335.8 111.3,335.5 110.8,335.5 110.3,335.5 109.8,335.5 109.3,335.5 108.8,335.5 108.3,335.5 107.8,335.5 107.3,335.5 106.8,335.4 106.3,335.3 105.8,335.1 105.3,335.0 104.8,334.9 104.3,334.7 103.8,334.6 103.3,334.5 102.8,334.3 102.3,334.2 102.0,334.1 101.8,334.2 101.3,334.3 100.8,334.4 100.3,334.5 99.8,334.6 99.3,334.7 98.8,334.8 98.3,334.9 97.8,335.0 97.3,335.1 96.8,335.2 96.3,335.3 95.8,335.4 95.3,335.5 94.8,336.2 94.3,336.8 93.8,337.5 93.3,338.2 92.8,338.8 92.3,339.5 91.8,340.2 91.3,340.8 90.8,340.7 90.3,340.5 89.8,340.3 89.3,340.2 88.8,340.0 88.3,339.8 87.8,339.7 87.3,339.5 86.8,339.7 86.3,339.9 85.8,340.1 85.3,340.3 84.8,340.5 84.3,340.8 83.8,341.0 83.3,341.2 82.8,341.4 82.3,341.6 81.8,341.8 81.3,342.0 80.8,342.2 80.3,342.4 79.8,342.6 79.3,342.8 78.8,342.6 78.3,342.5 77.8,342.3 77.3,342.2 76.8,342.0 76.3,341.8 75.8,341.7 75.3,341.5 74.8,341.9 74.3,342.2 73.8,342.6 73.3,342.9 72.8,343.2 72.3,343.6 71.8,343.9 71.3,344.3 70.8,344.6 70.3,345.0 70.0,345.2 69.8,345.2 69.3,345.3 68.8,345.3 68.3,345.4 67.8,345.4 67.3,345.5 66.8,345.6 66.3,345.6 65.8,345.7 65.3,345.7 64.8,345.8 64.7,345.8 64.3,345.8 63.8,345.7 63.3,345.6 62.8,345.6 62.3,345.5 61.8,345.5 61.3,345.4 60.8,345.4 60.3,345.3 59.8,345.3 59.3,345.2 58.8,345.9 58.3,346.6 57.8,347.3 57.3,348.0 56.8,348.7 56.7,348.8 56.3,348.7 55.8,348.6 55.3,348.4 54.8,348.3 54.3,348.2 54.0,348.1 53.8,348.1 53.3,348.0 52.8,348.0 52.3,347.9 51.8,347.8 51.3,347.8 50.8,347.7 50.3,347.7 49.8,347.6 49.3,347.6 48.8,347.5 48.7,347.5 48.3,347.7 47.8,347.9 47.3,348.1 46.8,348.3 46.3,348.5 45.8,348.7 45.3,348.9 44.8,349.1 44.3,349.4 43.8,349.6 43.3,349.8 42.8,350.1 42.3,350.4 41.8,350.6 41.3,350.9 40.8,351.2 40.3,351.5 39.8,351.8 39.3,352.1 38.8,351.9 38.3,351.8 37.8,351.6 37.3,351.4 36.8,351.3 36.3,351.1 35.8,350.9 35.3,350.8" fill="#f59c0e"/>
<path d="M35.3,348.0 L39.3,349.3 L43.3,347.0 L48.7,344.7 L54.0,345.3 L56.7,346.0 L59.3,342.4 L64.7,343.0 L70.0,342.4 L75.3,338.7 L79.3,340.0 L87.3,336.7 L91.3,338.0 L95.3,332.7 L102.0,331.3 L107.3,332.7 L111.3,332.7 L116.7,335.3 L123.3,333.0 L127.7,336.0 L130.3,334.7 L134.3,334.7 L138.3,336.0 L142.3,336.0 L146.3,332.7 L150.3,330.7 L154.3,328.7 L158.3,326.0 L163.0,324.0 L165.0,327.3 L167.7,331.3 L171.7,330.0 L175.7,329.3 L179.7,326.7 L183.7,325.0 L187.7,324.7 L191.7,322.0 L195.7,320.0 L199.7,316.0 L203.7,313.3 L206.3,314.7 L210.3,317.3 L213.0,314.0 L218.3,312.0 L222.3,311.0 L226.0,316.7 L229.3,314.0 L232.7,306.0 L236.0,305.3 L239.3,308.7 L242.7,307.3 L246.7,306.0 L250.7,303.3 L254.7,300.7 L258.0,297.3 L261.3,300.0 L264.7,302.0 L267.3,300.7 L270.0,294.7 L273.3,291.3 L277.3,290.0 L281.3,287.3 L284.7,288.7 L286.7,285.3 L290.7,282.7 L294.7,284.7 L298.7,284.0 L301.3,286.2 L303.3,291.5 L306.0,298.2 L309.3,296.8 L313.3,298.2 L317.3,298.8 L321.0,298.5 L323.7,301.2 L327.0,293.8 L329.7,290.5 L333.0,287.8 L336.3,285.2 L339.7,287.2 L343.0,295.2 L346.3,288.5 L349.7,286.5 L352.3,283.7 L355.0,285.0 L357.7,284.6 L361.0,285.0 L364.3,285.7 L367.0,284.0 L370.0,282.0 L373.0,280.5 L376.0,279.5 L379.0,278.0 L381.5,275.5 L383.5,272.0 L385.5,269.5 L387.5,267.5 L389.0,260.5 L392.0,259.0 L395.0,256.5 L397.0,251.2 L398.5,243.5 L400.0,242.5 L402.0,238.5 L404.0,236.5 L405.5,235.5 L407.0,230.0 L409.0,227.0 L411.0,229.0 L413.0,229.0 L414.5,221.5 L416.0,212.5 L417.4,204.6 L419.2,198.6 L421.0,202.2 L422.8,200.4 L424.6,194.4 L426.4,189.0 L428.2,178.8 L429.8,175.2 L431.2,185.4 L433.0,192.0 L434.8,189.6 L436.6,188.4 L438.4,187.2 L440.8,188.7 L442.6,193.2 L444.4,198.0 L446.2,196.8 L448.0,195.6 L449.8,193.8 L451.6,193.8 L453.4,198.6 L455.2,193.8 L457.0,185.4 L458.8,187.2 L460.6,193.2 L462.4,200.4 L464.2,208.8 L466.0,212.4 L467.8,211.2 L469.6,207.6 L471.6,200.6 L474.0,204.2 L476.4,208.4 L478.8,210.9 L481.2,209.6 L483.6,203.6 L486.0,197.0 L488.4,191.6 L490.8,191.0 L493.2,195.2 L495.0,195.8 L497.4,189.8 L499.8,185.6 L502.2,189.8 L504.6,193.4 L507.0,189.2 L509.4,179.0 L511.8,171.2 L514.2,164.6 L516.0,166.4 L518.4,171.2 L520.8,170.6 L523.2,177.8 L525.6,183.8 L527.0,183.4 L529.4,185.8 L531.8,189.4 L534.2,193.0 L536.0,183.4 L537.8,176.2 L539.6,178.0 L541.4,187.6 L543.2,191.8 L545.0,196.6 L546.8,203.8 L548.6,212.2 L550.4,210.4 L552.8,209.2 L555.2,205.6 L557.6,202.0 L560.0,196.0 L562.2,190.0 L564.2,191.2 L566.6,196.0 L569.0,199.0 L571.4,199.0 L573.2,202.0 L575.6,208.6 L577.2,214.5 L579.1,224.2 L581.1,230.8 L583.0,233.9 L585.0,236.6 L586.9,238.5 L588.9,243.7 L590.8,248.8 L592.5,250.2 L594.1,242.4 L596.0,228.8 L598.0,222.9 L599.9,222.6 L601.9,222.9 L603.2,220.0 L604.2,207.0 L605.1,202.8 L607.1,200.6 L609.7,202.4 L610.5,201.2 L612.7,196.8 L615.0,185.5 L617.2,173.5 L619.5,166.8 L621.7,162.2 L624.0,161.1 L626.2,158.5 L628.5,157.8 L630.7,164.5 L633.0,169.0 L635.2,164.5 L637.5,160.8 L639.7,164.5 L642.0,161.5 L644.2,157.0 L646.5,160.0 L648.7,153.2 L651.0,149.5 L653.2,149.8 L655.5,154.0 L657.7,157.0 L660.0,160.0 L662.2,157.0 L663.6,149.3 L666.3,144.8 L669.0,144.8 L671.7,145.2 L674.4,143.4 L677.1,143.9 L678.9,139.0 L680.7,143.1 L682.5,140.3 L685.2,135.9 L687.0,125.1 L688.8,118.8 L690.6,107.1 L692.4,106.2 L694.2,96.3 L695.6,86.4 L697.2,96.3 L699.0,111.6 L700.8,123.3 L702.6,119.7 L704.4,121.5 L706.2,128.7 L708.0,125.1 L709.8,121.5 L711.6,122.4 L713.4,119.7 L715.2,114.3 L717.0,111.6 L718.8,109.8 L720.6,110.7 L722.4,109.8 L723.8,100.8 L725.3,88.2 L726.5,84.2" fill="none" stroke="#f59c0e" stroke-width="2.8" stroke-linejoin="round"/>
<polygon points="35.3,350.8 35.8,350.9 36.3,351.0 36.8,351.2 37.3,351.3 37.8,351.4 38.0,351.5 38.3,351.5 38.8,351.6 39.3,351.7 39.8,351.7 40.3,351.8 40.8,351.9 41.3,352.0 41.8,352.0 42.3,352.1 42.7,352.2 42.8,352.0 43.3,351.4 43.8,350.7 44.3,350.0 44.7,349.5 44.8,349.4 45.3,349.1 45.8,348.8 46.3,348.5 46.8,348.2 47.3,347.9 47.8,348.0 48.3,348.0 48.8,348.1 49.3,348.2 49.8,348.3 50.3,348.3 50.8,348.4 51.3,348.5 51.8,348.5 52.3,348.5 52.8,348.6 53.3,348.6 53.8,348.6 54.3,348.6 54.8,348.7 55.3,348.7 55.8,348.7 56.3,348.7 56.7,348.8 56.8,348.7 57.3,348.2 57.8,347.7 58.3,347.2 58.8,346.7 59.3,346.2 59.8,346.2 60.3,346.2 60.8,346.2 61.3,346.2 61.8,346.2 62.3,346.2 62.8,346.2 63.3,346.2 63.8,346.2 64.3,346.2 64.7,346.2 64.8,346.2 65.3,346.2 65.8,346.3 66.3,346.3 66.8,346.4 67.3,346.5 67.8,346.5 68.3,346.6 68.8,346.6 69.3,346.7 69.8,346.7 70.0,346.8 70.3,346.6 70.8,346.3 71.3,346.0 71.8,345.6 72.3,345.3 72.8,345.0 73.3,344.7 73.8,344.4 74.3,344.1 74.8,343.8 75.3,343.5 75.8,343.6 76.3,343.8 76.8,343.9 77.3,344.1 77.8,344.2 78.3,344.4 78.8,344.6 79.3,344.7 79.8,344.9 80.3,345.0 80.7,345.2 80.8,345.1 81.3,344.8 81.8,344.4 82.3,344.1 82.8,343.8 83.3,343.4 83.8,343.1 84.3,342.8 84.8,342.4 85.3,342.1 85.8,341.8 86.3,341.4 86.8,341.1 87.3,340.8 87.8,341.1 88.3,341.4 88.8,341.8 89.3,342.1 89.8,342.4 90.3,342.8 90.8,343.1 91.3,343.5 91.8,342.8 92.3,342.1 92.8,341.5 93.3,340.8 93.8,340.1 94.3,339.5 94.8,338.8 95.3,338.2 95.8,338.0 96.3,337.9 96.8,337.8 97.3,337.6 97.8,337.5 98.3,337.4 98.8,337.2 99.3,337.1 99.8,337.0 100.3,336.9 100.7,336.7 100.8,336.8 101.3,336.9 101.8,337.0 102.3,337.2 102.8,337.3 103.3,337.4 103.8,337.5 104.3,337.7 104.8,337.8 105.3,337.9 105.8,338.1 106.3,338.2 106.8,338.3 107.3,338.4 107.8,338.6 108.3,338.7 108.8,338.8 109.3,339.0 109.8,339.1 110.3,339.2 110.8,339.4 111.3,339.5 111.8,339.6 112.3,339.7 112.7,339.8 112.8,339.9 113.3,339.9 113.8,340.0 114.3,340.1 114.8,340.2 115.3,340.3 115.8,340.4 116.3,340.5 116.8,340.5 117.3,340.6 117.8,340.7 118.0,340.7 118.3,340.6 118.8,340.4 119.3,340.2 119.8,340.0 120.3,339.8 120.8,339.7 121.3,339.5 121.8,339.3 122.3,339.1 122.8,338.9 123.3,338.7 123.8,338.5 124.3,338.3 124.7,338.1 124.8,338.3 125.3,338.9 125.8,339.6 126.3,340.3 126.8,340.9 127.3,341.6 127.7,342.1 127.8,342.1 128.3,341.8 128.8,341.5 129.3,341.3 129.8,341.0 130.3,340.7 130.8,340.6 131.3,340.4 131.8,340.2 132.3,340.1 132.8,339.9 133.3,339.8 133.8,339.6 134.3,339.4 134.8,339.6 135.3,339.8 135.8,339.9 136.3,340.1 136.8,340.2 137.3,340.4 137.8,340.6 138.3,340.7 138.8,340.7 139.3,340.7 139.8,340.7 140.3,340.7 140.8,340.7 141.3,340.7 141.8,340.7 142.3,340.7 142.8,340.4 143.3,340.1 143.8,339.8 144.3,339.4 144.8,339.1 145.3,338.8 145.8,338.5 146.3,338.1 146.8,338.0 147.3,337.8 147.8,337.6 148.3,337.4 148.8,337.3 149.3,337.1 149.8,336.9 150.3,336.7 150.8,336.6 151.3,336.4 151.8,336.2 152.3,336.1 152.8,335.9 153.3,335.7 153.8,335.6 154.3,335.4 154.8,335.2 155.3,334.9 155.8,334.7 156.3,334.4 156.8,334.2 157.3,333.9 157.8,333.7 158.3,333.4 158.8,333.3 159.3,333.1 159.8,333.0 160.3,332.9 160.8,332.7 161.3,332.6 161.8,332.5 162.3,332.3 162.8,332.2 163.0,332.1 163.3,332.6 163.8,333.4 164.3,334.3 164.8,335.1 165.0,335.4 165.3,335.8 165.8,336.5 166.3,337.2 166.8,337.8 167.0,338.1 167.3,338.0 167.8,337.9 168.3,337.8 168.8,337.7 169.3,337.6 169.8,337.5 170.3,337.3 170.8,337.2 171.3,337.1 171.7,337.0 171.8,337.0 172.3,336.9 172.8,336.8 173.3,336.7 173.8,336.5 174.3,336.4 174.8,336.3 175.3,336.2 175.7,336.1 175.8,336.1 176.3,335.8 176.8,335.6 177.3,335.3 177.8,335.1 178.3,334.8 178.8,334.6 179.3,334.3 179.7,334.1 179.8,334.1 180.3,333.8 180.8,333.6 181.3,333.3 181.8,333.1 182.3,332.8 182.8,332.6 183.3,332.3 183.7,332.1 183.8,332.1 184.3,332.1 184.8,332.1 185.3,332.1 185.8,332.1 186.3,332.1 186.8,332.1 187.3,332.1 187.7,332.1 187.8,332.0 188.3,331.8 188.8,331.5 189.3,331.2 189.8,330.9 190.3,330.6 190.8,330.3 191.3,330.0 191.7,329.8 191.8,329.8 192.3,329.5 192.8,329.3 193.3,329.1 193.8,328.9 194.3,328.7 194.8,328.5 195.3,328.3 195.7,328.1 195.8,328.0 196.3,327.7 196.8,327.4 197.3,327.0 197.8,326.7 198.3,326.3 198.8,326.0 199.3,325.7 199.7,325.4 199.8,325.3 200.3,325.1 200.8,324.8 201.3,324.5 201.8,324.2 202.3,323.9 202.8,323.6 203.3,323.3 203.7,323.1 203.8,323.1 204.3,323.3 204.8,323.5 205.3,323.7 205.8,323.8 206.3,324.0 206.8,324.3 207.3,324.5 207.8,324.8 208.3,325.0 208.8,325.3 209.3,325.5 209.8,325.8 210.3,326.0 210.8,325.5 211.3,325.0 211.8,324.5 212.3,324.0 212.8,323.5 213.0,323.3 213.3,323.2 213.8,323.1 214.3,323.0 214.8,322.9 215.3,322.8 215.8,322.7 216.3,322.6 216.8,322.5 217.3,322.4 217.8,322.3 218.3,322.2 218.8,322.0 219.3,321.8 219.8,321.6 220.3,321.3 220.8,321.1 221.3,320.9 221.8,320.7 222.3,320.5 222.8,321.1 223.3,321.7 223.8,322.4 224.3,323.0 224.8,323.6 225.3,324.3 225.8,324.9 226.0,325.1 226.3,325.0 226.8,324.6 227.3,324.3 227.8,324.0 228.3,323.7 228.8,323.4 229.3,323.1 229.8,322.4 230.3,321.7 230.8,321.0 231.3,320.3 231.8,319.6 232.3,318.9 232.7,318.4 232.8,318.3 233.3,318.0 233.8,317.7 234.3,317.4 234.8,317.1 235.3,316.8 235.8,316.5 236.0,316.3 236.3,316.7 236.8,317.3 237.3,317.9 237.8,318.5 238.3,319.1 238.8,319.7 239.3,320.3 239.8,320.0 240.3,319.7 240.8,319.4 241.3,319.1 241.8,318.8 242.3,318.5 242.7,318.3 242.8,318.3 243.3,318.2 243.8,318.1 244.3,318.1 244.8,318.0 245.3,317.9 245.8,317.8 246.3,317.7 246.7,317.7 246.8,317.6 247.3,317.4 247.8,317.1 248.3,316.9 248.8,316.6 249.3,316.4 249.8,316.1 250.3,315.9 250.7,315.7 250.8,315.6 251.3,315.3 251.8,314.9 252.3,314.6 252.8,314.3 253.3,313.9 253.8,313.6 254.3,313.2 254.7,313.0 254.8,312.9 255.3,312.5 255.8,312.1 256.3,311.7 256.8,311.2 257.3,310.8 257.8,310.4 258.0,310.3 258.3,310.5 258.8,310.9 259.3,311.3 259.8,311.7 260.3,312.1 260.8,312.5 261.3,313.0 261.8,312.9 262.3,312.9 262.8,312.9 263.3,312.9 263.8,312.9 264.3,312.9 264.7,312.9 264.8,313.0 265.3,313.2 265.8,313.5 266.3,313.7 266.8,314.0 267.3,314.2 267.8,313.3 268.3,312.3 268.8,311.3 269.3,310.3 269.8,309.3 270.0,308.9 270.3,308.7 270.8,308.4 271.3,308.1 271.8,307.8 272.3,307.5 272.8,307.2 273.3,306.9 273.8,306.8 274.3,306.6 274.8,306.4 275.3,306.3 275.8,306.1 276.3,305.9 276.8,305.8 277.3,305.6 277.8,305.4 278.3,305.1 278.8,304.9 279.3,304.6 279.8,304.4 280.3,304.1 280.8,303.9 281.3,303.6 281.8,303.9 282.3,304.2 282.8,304.5 283.3,304.8 283.8,305.1 284.3,305.4 284.7,305.6 284.8,305.4 285.3,304.6 285.8,303.7 286.3,302.9 286.7,302.2 286.8,302.1 287.3,301.8 287.8,301.5 288.3,301.1 288.8,300.8 289.3,300.5 289.8,300.2 290.3,299.8 290.7,299.6 290.8,299.6 291.3,300.0 291.8,300.3 292.3,300.6 292.8,300.9 293.3,301.3 293.8,301.6 294.3,301.9 294.7,302.2 294.8,302.1 295.3,302.0 295.8,301.8 296.3,301.7 296.8,301.5 297.3,301.3 297.8,301.2 298.3,301.0 298.7,300.9 298.8,300.9 299.3,301.3 299.8,301.8 300.3,302.2 300.8,302.6 301.3,303.0 301.8,304.0 302.3,305.0 302.8,306.0 303.3,307.0 303.8,308.0 304.3,309.0 304.8,310.0 305.3,311.0 305.8,312.0 306.0,312.4 306.3,312.2 306.8,311.9 307.3,311.6 307.8,311.3 308.3,311.0 308.8,310.7 309.3,310.4 309.8,310.6 310.3,310.9 310.8,311.1 311.3,311.4 311.8,311.6 312.3,311.9 312.8,312.1 313.3,312.4 313.8,312.3 314.3,312.2 314.8,312.1 315.3,312.0 315.8,311.9 316.3,311.8 316.8,311.8 317.3,311.7 317.8,311.4 318.3,311.2 318.8,311.0 319.3,310.8 319.8,310.5 320.3,310.3 320.8,310.1 321.0,310.0 321.3,310.3 321.8,310.8 322.3,311.3 322.8,311.8 323.3,312.3 323.7,312.7 323.8,312.6 324.3,312.1 324.8,311.6 325.3,311.1 325.8,310.6 326.3,310.1 326.8,309.6 327.0,309.4 327.3,309.0 327.8,308.4 328.3,307.8 328.8,307.1 329.3,306.5 329.7,306.0 329.8,305.9 330.3,305.6 330.8,305.3 331.3,305.0 331.8,304.7 332.3,304.4 332.8,304.1 333.0,304.0 333.3,303.8 333.8,303.5 334.3,303.2 334.8,302.9 335.3,302.6 335.8,302.3 336.3,302.0 336.8,302.3 337.3,302.6 337.8,302.9 338.3,303.2 338.8,303.5 339.3,303.8 339.7,304.0 339.8,304.1 340.3,304.6 340.8,305.1 341.3,305.7 341.8,306.2 342.3,306.7 342.8,307.2 343.0,307.4 343.3,307.1 343.8,306.4 344.3,305.8 344.8,305.2 345.3,304.6 345.8,304.0 346.3,303.4 346.8,303.2 347.3,303.0 347.8,302.8 348.3,302.6 348.8,302.4 349.3,302.2 349.7,302.0 349.8,302.0 350.3,301.7 350.8,301.4 351.3,301.2 351.8,300.9 352.3,300.6 352.8,301.1 353.3,301.6 353.8,302.1 354.3,302.6 354.8,303.0 355.0,303.2 355.3,303.0 355.8,302.7 356.3,302.4 356.8,302.1 357.3,301.8 357.7,301.5 357.8,301.6 358.3,301.6 358.8,301.7 359.3,301.7 359.8,301.8 360.3,301.9 360.8,301.9 361.0,301.9 361.3,301.9 361.8,302.0 362.3,302.0 362.8,302.0 363.3,302.0 363.8,302.0 364.3,302.0 364.8,301.7 365.3,301.4 365.8,301.1 366.3,300.8 366.8,300.5 367.3,300.2 367.7,300.0 367.8,299.9 368.3,299.7 368.8,299.5 369.3,299.3 369.8,299.1 370.3,298.9 370.8,298.7 371.0,298.7 371.3,298.6 371.8,298.4 372.3,298.2 372.8,298.0 373.3,297.9 373.8,297.7 374.3,297.5 374.8,297.3 375.0,297.3 375.3,297.2 375.8,297.2 376.3,297.1 376.8,297.0 377.3,296.9 377.8,296.9 378.3,296.8 378.8,296.7 379.0,296.7 379.3,296.5 379.8,296.1 380.3,295.7 380.8,295.4 381.3,295.0 381.7,294.7 381.8,294.6 382.3,294.1 382.8,293.5 383.3,293.0 383.8,292.5 384.3,292.0 386.3,289.5 389.8,283.8 392.6,283.8 395.4,276.8 398.2,271.2 401.0,272.6 403.8,268.4 406.6,262.8 409.4,262.8 412.2,265.6 414.3,260.0 416.4,254.4 418.5,247.4 420.6,244.6 422.7,247.4 424.8,243.2 426.9,236.2 429.0,231.3 431.1,237.6 433.2,241.8 436.0,240.4 438.6,239.4 441.3,242.1 444.0,245.7 446.7,244.8 449.4,243.0 452.1,243.9 454.4,243.0 456.6,237.6 458.4,238.5 460.7,243.0 462.5,248.4 464.3,252.0 466.5,252.9 468.8,251.1 471.0,247.5 473.3,249.3 475.5,251.1 477.8,252.9 480.0,253.8 482.3,251.1 484.5,247.5 487.3,243.9 490.0,242.6 492.7,243.9 495.2,243.6 497.4,240.9 500.1,239.1 502.8,241.8 505.1,243.6 507.3,241.8 509.6,234.6 511.4,232.8 513.6,228.3 515.4,227.0 517.2,229.2 519.0,231.9 521.3,231.0 523.5,235.5 525.8,237.3 528.0,238.2 530.3,240.0 532.5,240.9 534.8,243.6 536.6,237.3 538.4,231.9 540.2,235.5 542.0,241.8 543.8,244.5 545.6,246.3 547.4,250.8 549.2,254.4 551.0,253.5 552.2,253.6 555.2,252.4 558.2,248.8 560.6,245.2 562.4,241.0 564.8,242.8 567.2,245.2 569.6,247.6 572.0,247.0 574.4,251.2 576.8,256.0 578.6,260.8 580.4,266.8 582.8,268.0 585.2,269.2 587.6,271.6 590.0,276.4 591.8,277.6 593.6,271.6 595.4,265.6 597.2,260.8 599.6,260.8 602.0,260.0 603.3,255.0 605.0,250.0 607.4,247.6 610.5,249.5 613.1,245.6 615.7,237.9 618.3,230.1 620.9,227.5 623.5,225.5 626.1,224.9 628.0,222.9 630.0,224.9 631.9,227.5 633.9,230.1 635.8,227.5 637.8,225.5 640.4,228.1 642.3,224.9 644.3,222.9 646.2,224.9 648.2,223.6 650.1,219.7 652.1,219.0 654.6,221.0 657.2,223.6 659.8,226.2 662.4,222.3 663.8,221.0 666.5,216.7 669.2,217.8 671.9,218.9 674.6,217.3 677.3,215.6 679.4,213.5 681.6,216.7 683.8,214.6 685.9,211.3 688.1,205.9 690.2,198.4 692.4,197.3 694.6,189.7 696.2,189.7 697.8,198.4 699.4,203.8 701.0,207.0 703.2,204.3 705.4,208.1 707.0,210.2 709.1,206.5 711.3,206.5 713.5,207.0 715.6,203.2 717.8,201.1 719.9,200.5 722.1,201.1 723.7,197.3 725.3,190.8 726.4,188.6 726.4,193.0 725.3,198.4 723.7,204.8 722.1,207.0 719.9,204.8 717.8,205.9 715.6,208.1 713.5,211.3 711.3,210.2 709.1,211.3 707.0,215.6 705.4,213.5 703.2,209.2 701.0,212.4 699.4,211.3 697.8,204.8 696.2,196.2 694.6,198.4 692.4,203.8 690.2,205.9 688.1,213.5 685.9,216.7 683.8,220.0 681.6,224.3 679.4,218.9 677.3,221.0 674.6,222.1 671.9,223.2 669.2,223.2 666.5,223.2 663.8,226.4 662.4,227.5 659.8,231.4 657.2,228.8 654.6,226.2 652.1,224.9 650.1,224.9 648.2,228.8 646.2,231.4 644.3,228.8 642.3,230.1 640.4,232.7 637.8,231.4 635.8,232.7 633.9,235.3 631.9,234.0 630.0,231.4 628.0,228.8 626.1,230.1 623.5,230.7 620.9,234.0 618.3,239.2 615.7,247.0 613.1,252.1 610.5,256.0 607.4,253.6 605.0,259.6 603.3,264.0 602.0,265.6 599.6,265.6 597.2,268.0 595.4,274.0 593.6,282.4 591.8,284.8 590.0,283.6 587.6,278.8 585.2,275.2 582.8,274.0 580.4,275.2 578.6,271.6 576.8,262.0 574.4,258.4 572.0,252.4 569.6,252.4 567.2,251.2 564.8,248.8 562.4,247.6 560.6,252.4 558.2,256.0 555.2,258.4 552.2,260.8 551.0,260.7 549.2,263.4 547.4,259.8 545.6,253.5 543.8,249.9 542.0,247.2 540.2,243.6 538.4,240.0 536.6,246.3 534.8,249.9 532.5,247.2 530.3,245.4 528.0,243.6 525.8,244.5 523.5,241.8 521.3,236.4 519.0,237.3 517.2,236.4 515.4,232.8 513.6,235.5 511.4,239.1 509.6,242.7 507.3,246.3 505.1,248.1 502.8,247.2 500.1,244.5 497.4,246.3 495.2,249.0 492.7,249.3 490.0,248.4 487.3,250.2 484.5,253.8 482.3,258.3 480.0,260.1 477.8,261.0 475.5,259.2 473.3,255.6 471.0,253.8 468.8,259.2 466.5,261.0 464.3,261.0 462.5,255.6 460.7,251.1 458.4,244.8 456.6,245.7 454.4,252.0 452.1,251.1 449.4,249.3 446.7,251.1 444.0,252.0 441.3,252.0 438.6,245.7 436.0,247.4 433.2,250.2 431.1,248.8 429.0,240.4 426.9,246.0 424.8,253.0 422.7,255.8 420.6,254.4 418.5,257.2 416.4,262.8 414.3,269.8 412.2,274.0 409.4,269.8 406.6,271.2 403.8,276.8 401.0,281.0 398.2,281.0 395.4,286.6 392.6,289.4 389.8,290.8 386.3,296.0 384.3,298.0 383.8,298.5 383.3,299.1 382.8,299.6 382.3,300.1 381.8,300.6 381.7,300.7 381.3,301.0 380.8,301.4 380.3,301.8 379.8,302.1 379.3,302.5 379.0,302.7 378.8,302.7 378.3,302.8 377.8,302.9 377.3,303.0 376.8,303.1 376.3,303.1 375.8,303.2 375.3,303.3 375.0,303.3 374.8,303.4 374.3,303.6 373.8,303.7 373.3,303.9 372.8,304.1 372.3,304.3 371.8,304.5 371.3,304.6 371.0,304.7 370.8,304.8 370.3,305.0 369.8,305.2 369.3,305.4 368.8,305.6 368.3,305.8 367.8,306.0 367.7,306.0 367.3,306.3 366.8,306.6 366.3,306.9 365.8,307.2 365.3,307.5 364.8,307.8 364.3,308.0 363.8,308.0 363.3,308.0 362.8,308.0 362.3,308.0 361.8,308.0 361.3,308.1 361.0,308.1 360.8,308.0 360.3,308.0 359.8,307.9 359.3,307.8 358.8,307.8 358.3,307.7 357.8,307.7 357.7,307.7 357.3,307.9 356.8,308.2 356.3,308.5 355.8,308.9 355.3,309.2 355.0,309.4 354.8,309.2 354.3,308.7 353.8,308.2 353.3,307.7 352.8,307.2 352.3,306.8 351.8,307.0 351.3,307.3 350.8,307.6 350.3,307.8 349.8,308.1 349.7,308.2 349.3,308.3 348.8,308.5 348.3,308.8 347.8,309.0 347.3,309.2 346.8,309.4 346.3,309.6 345.8,310.2 345.3,310.8 344.8,311.4 344.3,312.0 343.8,312.6 343.3,313.2 343.0,313.6 342.8,313.4 342.3,312.9 341.8,312.3 341.3,311.8 340.8,311.3 340.3,310.8 339.8,310.3 339.7,310.2 339.3,310.0 338.8,309.7 338.3,309.4 337.8,309.1 337.3,308.8 336.8,308.5 336.3,308.2 335.8,308.5 335.3,308.8 334.8,309.1 334.3,309.4 333.8,309.7 333.3,310.0 333.0,310.2 332.8,310.3 332.3,310.6 331.8,310.9 331.3,311.2 330.8,311.5 330.3,311.8 329.8,312.1 329.7,312.2 329.3,312.7 328.8,313.3 328.3,314.0 327.8,314.6 327.3,315.2 327.0,315.6 326.8,315.8 326.3,316.3 325.8,316.8 325.3,317.3 324.8,317.8 324.3,318.3 323.8,318.8 323.7,318.9 323.3,318.5 322.8,318.0 322.3,317.5 321.8,317.0 321.3,316.5 321.0,316.2 320.8,316.3 320.3,316.5 319.8,316.8 319.3,317.0 318.8,317.2 318.3,317.5 317.8,317.7 317.3,317.9 316.8,318.0 316.3,318.1 315.8,318.2 315.3,318.3 314.8,318.4 314.3,318.5 313.8,318.5 313.3,318.6 312.8,318.4 312.3,318.1 311.8,317.9 311.3,317.6 310.8,317.4 310.3,317.1 309.8,316.9 309.3,316.6 308.8,316.9 308.3,317.3 307.8,317.6 307.3,317.9 306.8,318.2 306.3,318.5 306.0,318.6 305.8,318.2 305.3,317.2 304.8,316.2 304.3,315.2 303.8,314.2 303.3,313.2 302.8,312.2 302.3,311.2 301.8,310.2 301.3,309.2 300.8,308.8 300.3,308.4 299.8,308.0 299.3,307.6 298.8,307.2 298.7,307.1 298.3,307.3 297.8,307.4 297.3,307.6 296.8,307.7 296.3,307.9 295.8,308.1 295.3,308.2 294.8,308.4 294.7,308.4 294.3,308.2 293.8,307.8 293.3,307.5 292.8,307.2 292.3,306.9 291.8,306.5 291.3,306.2 290.8,305.9 290.7,305.8 290.3,306.1 289.8,306.4 289.3,306.7 288.8,307.0 288.3,307.4 287.8,307.7 287.3,308.0 286.8,308.3 286.7,308.4 286.3,309.1 285.8,309.9 285.3,310.8 284.8,311.6 284.7,311.8 284.3,311.6 283.8,311.3 283.3,311.0 282.8,310.7 282.3,310.4 281.8,310.1 281.3,309.8 280.8,310.0 280.3,310.3 279.8,310.5 279.3,310.8 278.8,311.0 278.3,311.3 277.8,311.5 277.3,311.8 276.8,311.9 276.3,312.1 275.8,312.3 275.3,312.4 274.8,312.6 274.3,312.8 273.8,312.9 273.3,313.1 272.8,313.4 272.3,313.7 271.8,314.0 271.3,314.3 270.8,314.6 270.3,314.9 270.0,315.1 269.8,315.5 269.3,316.4 268.8,317.4 268.3,318.4 267.8,319.4 267.3,320.4 266.8,320.1 266.3,319.9 265.8,319.6 265.3,319.4 264.8,319.1 264.7,319.1 264.3,319.1 263.8,319.1 263.3,319.1 262.8,319.1 262.3,319.1 261.8,319.1 261.3,319.0 260.8,318.6 260.3,318.2 259.8,317.8 259.3,317.4 258.8,317.0 258.3,316.6 258.0,316.3 257.8,316.5 257.3,316.9 256.8,317.3 256.3,317.7 255.8,318.1 255.3,318.5 254.8,319.0 254.7,319.0 254.3,319.3 253.8,319.6 253.3,320.0 252.8,320.3 252.3,320.6 251.8,321.0 251.3,321.3 250.8,321.7 250.7,321.7 250.3,321.9 249.8,322.2 249.3,322.4 248.8,322.7 248.3,322.9 247.8,323.2 247.3,323.4 246.8,323.7 246.7,323.7 246.3,323.8 245.8,323.8 245.3,323.9 244.8,324.0 244.3,324.1 243.8,324.1 243.3,324.2 242.8,324.3 242.7,324.3 242.3,324.5 241.8,324.8 241.3,325.1 240.8,325.4 240.3,325.7 239.8,326.0 239.3,326.3 238.8,325.7 238.3,325.1 237.8,324.5 237.3,323.8 236.8,323.2 236.3,322.6 236.0,322.3 235.8,322.4 235.3,322.7 234.8,323.0 234.3,323.3 233.8,323.6 233.3,323.9 232.8,324.2 232.7,324.2 232.3,324.8 231.8,325.5 231.3,326.1 230.8,326.8 230.3,327.5 229.8,328.2 229.3,328.9 228.8,329.2 228.3,329.5 227.8,329.8 227.3,330.1 226.8,330.4 226.3,330.7 226.0,330.9 225.8,330.6 225.3,330.0 224.8,329.3 224.3,328.7 223.8,328.0 223.3,327.4 222.8,326.8 222.3,326.1 221.8,326.3 221.3,326.5 220.8,326.7 220.3,327.0 219.8,327.2 219.3,327.4 218.8,327.6 218.3,327.8 217.8,327.9 217.3,328.0 216.8,328.1 216.3,328.1 215.8,328.2 215.3,328.3 214.8,328.4 214.3,328.5 213.8,328.6 213.3,328.7 213.0,328.7 212.8,328.9 212.3,329.4 211.8,329.9 211.3,330.4 210.8,330.9 210.3,331.4 209.8,331.1 209.3,330.9 208.8,330.6 208.3,330.4 207.8,330.1 207.3,329.9 206.8,329.6 206.3,329.4 205.8,329.2 205.3,329.0 204.8,328.8 204.3,328.6 203.8,328.4 203.7,328.3 203.3,328.6 202.8,328.8 202.3,329.1 201.8,329.4 201.3,329.7 200.8,330.0 200.3,330.3 199.8,330.5 199.7,330.6 199.3,330.9 198.8,331.2 198.3,331.5 197.8,331.9 197.3,332.2 196.8,332.6 196.3,332.9 195.8,333.2 195.7,333.3 195.3,333.5 194.8,333.7 194.3,333.9 193.8,334.1 193.3,334.3 192.8,334.5 192.3,334.7 191.8,335.0 191.7,335.0 191.3,335.2 190.8,335.5 190.3,335.8 189.8,336.1 189.3,336.4 188.8,336.7 188.3,336.9 187.8,337.2 187.7,337.3 187.3,337.3 186.8,337.3 186.3,337.3 185.8,337.3 185.3,337.3 184.8,337.3 184.3,337.3 183.8,337.3 183.7,337.3 183.3,337.5 182.8,337.7 182.3,338.0 181.8,338.2 181.3,338.5 180.8,338.7 180.3,339.0 179.8,339.2 179.7,339.3 179.3,339.5 178.8,339.7 178.3,340.0 177.8,340.2 177.3,340.5 176.8,340.7 176.3,341.0 175.8,341.2 175.7,341.3 175.3,341.4 174.8,341.5 174.3,341.6 173.8,341.7 173.3,341.8 172.8,341.9 172.3,342.1 171.8,342.2 171.7,342.2 171.3,342.3 170.8,342.4 170.3,342.5 169.8,342.6 169.3,342.7 168.8,342.9 168.3,343.0 167.8,343.1 167.3,343.2 167.0,343.3 166.8,343.0 166.3,342.3 165.8,341.7 165.3,341.0 165.0,340.6 164.8,340.3 164.3,339.4 163.8,338.6 163.3,337.8 163.0,337.3 162.8,337.3 162.3,337.5 161.8,337.6 161.3,337.8 160.8,337.9 160.3,338.0 159.8,338.2 159.3,338.3 158.8,338.4 158.3,338.6 157.8,338.8 157.3,339.1 156.8,339.3 156.3,339.6 155.8,339.8 155.3,340.1 154.8,340.3 154.3,340.6 153.8,340.7 153.3,340.9 152.8,341.1 152.3,341.2 151.8,341.4 151.3,341.6 150.8,341.7 150.3,341.9 149.8,342.0 149.3,342.2 148.8,342.4 148.3,342.6 147.8,342.7 147.3,342.9 146.8,343.1 146.3,343.3 145.8,343.6 145.3,343.9 144.8,344.2 144.3,344.6 143.8,344.9 143.3,345.2 142.8,345.5 142.3,345.9 141.8,345.9 141.3,345.9 140.8,345.9 140.3,345.9 139.8,345.9 139.3,345.9 138.8,345.9 138.3,345.9 137.8,345.7 137.3,345.5 136.8,345.4 136.3,345.2 135.8,345.1 135.3,344.9 134.8,344.7 134.3,344.6 133.8,344.7 133.3,344.9 132.8,345.1 132.3,345.2 131.8,345.4 131.3,345.5 130.8,345.7 130.3,345.9 129.8,346.1 129.3,346.4 128.8,346.7 128.3,346.9 127.8,347.2 127.7,347.3 127.3,346.7 126.8,346.1 126.3,345.4 125.8,344.7 125.3,344.1 124.8,343.4 124.7,343.3 124.3,343.4 123.8,343.6 123.3,343.8 122.8,344.0 122.3,344.2 121.8,344.4 121.3,344.6 120.8,344.8 120.3,345.0 119.8,345.2 119.3,345.4 118.8,345.5 118.3,345.7 118.0,345.9 117.8,345.8 117.3,345.7 116.8,345.7 116.3,345.6 115.8,345.5 115.3,345.4 114.8,345.3 114.3,345.2 113.8,345.1 113.3,345.1 112.8,345.0 112.7,345.0 112.3,344.9 111.8,344.7 111.3,344.6 110.8,344.5 110.3,344.3 109.8,344.2 109.3,344.1 108.8,343.9 108.3,343.8 107.8,343.7 107.3,343.6 106.8,343.4 106.3,343.3 105.8,343.2 105.3,343.0 104.8,342.9 104.3,342.8 103.8,342.7 103.3,342.5 102.8,342.4 102.3,342.3 101.8,342.1 101.3,342.0 100.8,341.9 100.7,341.9 100.3,342.0 99.8,342.1 99.3,342.2 98.8,342.3 98.3,342.5 97.8,342.6 97.3,342.7 96.8,342.9 96.3,343.0 95.8,343.1 95.3,343.2 94.8,343.9 94.3,344.6 93.8,345.2 93.3,345.9 92.8,346.6 92.3,347.2 91.8,347.9 91.3,348.5 90.8,348.2 90.3,347.9 89.8,347.5 89.3,347.2 88.8,346.9 88.3,346.5 87.8,346.2 87.3,345.8 86.8,346.2 86.3,346.5 85.8,346.8 85.3,347.2 84.8,347.5 84.3,347.8 83.8,348.2 83.3,348.5 82.8,348.8 82.3,349.2 81.8,349.5 81.3,349.8 80.8,350.2 80.7,350.2 80.3,350.1 79.8,350.0 79.3,349.8 78.8,349.6 78.3,349.5 77.8,349.3 77.3,349.2 76.8,349.0 76.3,348.9 75.8,348.7 75.3,348.5 74.8,348.8 74.3,349.2 73.8,349.5 73.3,349.8 72.8,350.1 72.3,350.4 71.8,350.7 71.3,351.0 70.8,351.3 70.3,351.6 70.0,351.8 69.8,351.8 69.3,351.8 68.8,351.7 68.3,351.6 67.8,351.6 67.3,351.5 66.8,351.5 66.3,351.4 65.8,351.4 65.3,351.3 64.8,351.2 64.7,351.2 64.3,351.2 63.8,351.2 63.3,351.2 62.8,351.2 62.3,351.2 61.8,351.2 61.3,351.2 60.8,351.2 60.3,351.2 59.8,351.2 59.3,351.2 58.8,351.7 58.3,352.2 57.8,352.7 57.3,353.2 56.8,353.7 56.7,353.8 56.3,353.8 55.8,353.8 55.3,353.7 54.8,353.7 54.3,353.7 53.8,353.7 53.3,353.6 52.8,353.6 52.3,353.6 51.8,353.6 51.3,353.5 50.8,353.5 50.3,353.4 49.8,353.3 49.3,353.2 48.8,353.1 48.3,353.1 47.8,353.0 47.3,352.9 46.8,353.2 46.3,353.5 45.8,353.8 45.3,354.2 44.8,354.5 44.7,354.5 44.3,355.1 43.8,355.7 43.3,356.4 42.8,357.1 42.7,357.2 42.3,357.2 41.8,357.1 41.3,357.0 40.8,356.9 40.3,356.9 39.8,356.8 39.3,356.7 38.8,356.6 38.3,356.6 38.0,356.5 37.8,356.5 37.3,356.3 36.8,356.2 36.3,356.1 35.8,355.9 35.3,355.8" fill="#082a52"/>
<path d="M35.3,353.3 L38.0,354.0 L42.7,354.7 L44.7,352.0 L47.3,350.4 L51.3,351.0 L56.7,351.3 L59.3,348.7 L64.7,348.7 L70.0,349.3 L75.3,346.0 L80.7,347.7 L87.3,343.3 L91.3,346.0 L95.3,340.7 L100.7,339.3 L107.3,341.0 L112.7,342.4 L118.0,343.3 L124.7,340.7 L127.7,344.7 L130.3,343.3 L134.3,342.0 L138.3,343.3 L142.3,343.3 L146.3,340.7 L150.3,339.3 L154.3,338.0 L158.3,336.0 L163.0,334.7 L165.0,338.0 L167.0,340.7 L171.7,339.6 L175.7,338.7 L179.7,336.7 L183.7,334.7 L187.7,334.7 L191.7,332.4 L195.7,330.7 L199.7,328.0 L203.7,325.7 L206.3,326.7 L210.3,328.7 L213.0,326.0 L218.3,325.0 L222.3,323.3 L226.0,328.0 L229.3,326.0 L232.7,321.3 L236.0,319.3 L239.3,323.3 L242.7,321.3 L246.7,320.7 L250.7,318.7 L254.7,316.0 L258.0,313.3 L261.3,316.0 L264.7,316.0 L267.3,317.3 L270.0,312.0 L273.3,310.0 L277.3,308.7 L281.3,306.7 L284.7,308.7 L286.7,305.3 L290.7,302.7 L294.7,305.3 L298.7,304.0 L301.3,306.1 L303.3,310.1 L306.0,315.5 L309.3,313.5 L313.3,315.5 L317.3,314.8 L321.0,313.1 L323.7,315.8 L327.0,312.5 L329.7,309.1 L333.0,307.1 L336.3,305.1 L339.7,307.1 L343.0,310.5 L346.3,306.5 L349.7,305.1 L352.3,303.7 L355.0,306.3 L357.7,304.6 L361.0,305.0 L364.3,305.0 L367.7,303.0 L371.0,301.7 L375.0,300.3 L379.0,299.7 L381.7,297.7 L384.3,295.0 L386.3,292.8 L389.8,287.3 L392.6,286.6 L395.4,281.7 L398.2,276.1 L401.0,276.8 L403.8,272.6 L406.6,267.0 L409.4,266.3 L412.2,269.8 L414.3,264.9 L416.4,258.6 L418.5,252.3 L420.6,249.5 L422.7,251.6 L424.8,248.1 L426.9,241.1 L429.0,235.9 L431.1,243.2 L433.2,246.0 L436.0,243.9 L438.6,242.6 L441.3,247.1 L444.0,248.8 L446.7,247.9 L449.4,246.2 L452.1,247.5 L454.4,247.5 L456.6,241.6 L458.4,241.7 L460.7,247.1 L462.5,252.0 L464.3,256.5 L466.5,256.9 L468.8,255.1 L471.0,250.7 L473.3,252.4 L475.5,255.1 L477.8,256.9 L480.0,257.0 L482.3,254.7 L484.5,250.7 L487.3,247.1 L490.0,245.5 L492.7,246.6 L495.2,246.3 L497.4,243.6 L500.1,241.8 L502.8,244.5 L505.1,245.8 L507.3,244.1 L509.6,238.6 L511.4,235.9 L513.6,231.9 L515.4,229.9 L517.2,232.8 L519.0,234.6 L521.3,233.7 L523.5,238.7 L525.8,240.9 L528.0,240.9 L530.3,242.7 L532.5,244.1 L534.8,246.8 L536.6,241.8 L538.4,235.9 L540.2,239.6 L542.0,244.5 L543.8,247.2 L545.6,249.9 L547.4,255.3 L549.2,258.9 L551.0,257.1 L552.2,257.2 L555.2,255.4 L558.2,252.4 L560.6,248.8 L562.4,244.3 L564.8,245.8 L567.2,248.2 L569.6,250.0 L572.0,249.7 L574.4,254.8 L576.8,259.0 L578.6,266.2 L580.4,271.0 L582.8,271.0 L585.2,272.2 L587.6,275.2 L590.0,280.0 L591.8,281.2 L593.6,277.0 L595.4,269.8 L597.2,264.4 L599.6,263.2 L602.0,262.8 L603.3,259.5 L605.0,254.8 L607.4,250.6 L610.5,252.8 L613.1,248.8 L615.7,242.4 L618.3,234.6 L620.9,230.8 L623.5,228.1 L626.1,227.5 L628.0,225.9 L630.0,228.2 L631.9,230.8 L633.9,232.7 L635.8,230.1 L637.8,228.4 L640.4,230.4 L642.3,227.5 L644.3,225.9 L646.2,228.2 L648.2,226.2 L650.1,222.3 L652.1,221.9 L654.6,223.6 L657.2,226.2 L659.8,228.8 L662.4,224.9 L663.8,223.7 L666.5,219.9 L669.2,220.5 L671.9,221.1 L674.6,219.7 L677.3,218.3 L679.4,216.2 L681.6,220.5 L683.8,217.3 L685.9,214.0 L688.1,209.7 L690.2,202.2 L692.4,200.6 L694.6,194.1 L696.2,192.9 L697.8,201.6 L699.4,207.6 L701.0,209.7 L703.2,206.8 L705.4,210.8 L707.0,212.9 L709.1,208.9 L711.3,208.3 L713.5,209.2 L715.6,205.6 L717.8,203.5 L719.9,202.7 L722.1,204.1 L723.7,201.1 L725.3,194.6 L726.4,190.8" fill="none" stroke="#082a52" stroke-width="2.8" stroke-linejoin="round"/>
<line x1="603.45" y1="62" x2="603.45" y2="409.5" stroke="#3a3a3a" stroke-width="1.3"/>
<text x="510.3" y="72.9" font-size="13.2" fill="#333" textLength="88.5" lengthAdjust="spacingAndGlyphs">GPT 4 launch</text>
<line x1="34.8" y1="62.5" x2="34.8" y2="410" stroke="#999" stroke-width="1.7"/>
<line x1="30" y1="409.8" x2="730" y2="409.8" stroke="#999" stroke-width="1.7"/>
<g font-size="14" fill="#333">
<text x="24" y="413.8" text-anchor="end">0</text>
<line x1="30" y1="410.5" x2="35" y2="410.5" stroke="#777" stroke-width="1.2"/>
<text x="24" y="346.8" text-anchor="end">10</text>
<line x1="30" y1="343.5" x2="35" y2="343.5" stroke="#777" stroke-width="1.2"/>
<text x="24" y="279.8" text-anchor="end">20</text>
<line x1="30" y1="276.5" x2="35" y2="276.5" stroke="#777" stroke-width="1.2"/>
<text x="24" y="212.8" text-anchor="end">30</text>
<line x1="30" y1="209.5" x2="35" y2="209.5" stroke="#777" stroke-width="1.2"/>
<text x="24" y="145.8" text-anchor="end">40</text>
<line x1="30" y1="142.5" x2="35" y2="142.5" stroke="#777" stroke-width="1.2"/>
<text x="24" y="78.8" text-anchor="end">50</text>
<line x1="30" y1="75.5" x2="35" y2="75.5" stroke="#777" stroke-width="1.2"/>

<text x="71.1" y="428" text-anchor="middle">2015</text>
<text x="140.8" y="428" text-anchor="middle">2016</text>
<text x="209.9" y="428" text-anchor="middle">2017</text>
<text x="278.6" y="428" text-anchor="middle">2018</text>
<text x="347.7" y="428" text-anchor="middle">2019</text>
<text x="417.2" y="428" text-anchor="middle">2020</text>
<text x="486.4" y="428" text-anchor="middle">2021</text>
<text x="555.5" y="428" text-anchor="middle">2022</text>
<text x="624.5" y="428" text-anchor="middle">2023</text>
<text x="693.9" y="428" text-anchor="middle">2024</text>

</g>
<line x1="37.0" y1="409.5" x2="37.0" y2="414.5" stroke="#777" stroke-width="1.2"/>
<line x1="106.6" y1="409.5" x2="106.6" y2="414.5" stroke="#777" stroke-width="1.2"/>
<line x1="176.3" y1="409.5" x2="176.3" y2="414.5" stroke="#777" stroke-width="1.2"/>
<line x1="244.9" y1="409.5" x2="244.9" y2="414.5" stroke="#777" stroke-width="1.2"/>
<line x1="313.7" y1="409.5" x2="313.7" y2="414.5" stroke="#777" stroke-width="1.2"/>
<line x1="383.1" y1="409.5" x2="383.1" y2="414.5" stroke="#777" stroke-width="1.2"/>
<line x1="452.7" y1="409.5" x2="452.7" y2="414.5" stroke="#777" stroke-width="1.2"/>
<line x1="521.6" y1="409.5" x2="521.6" y2="414.5" stroke="#777" stroke-width="1.2"/>
<line x1="590.7" y1="409.5" x2="590.7" y2="414.5" stroke="#777" stroke-width="1.2"/>
<line x1="659.8" y1="409.5" x2="659.8" y2="414.5" stroke="#777" stroke-width="1.2"/>
<line x1="729.4" y1="409.5" x2="729.4" y2="414.5" stroke="#777" stroke-width="1.2"/>

<line x1="41" y1="444.4" x2="73.7" y2="444.4" stroke="#082a52" stroke-width="3"/>
<line x1="41" y1="458.8" x2="73.7" y2="458.8" stroke="#f59c0e" stroke-width="2.7"/>
<g font-size="13.5" fill="#333">
<text x="79.2" y="448" textLength="417.5" lengthAdjust="spacingAndGlyphs">'Magnificent Seven' market cap as share of S&amp;P 500 market cap</text>
<text x="79.2" y="462.4" textLength="419" lengthAdjust="spacingAndGlyphs">'Magnificent Seven' market cap as share of the market cap of the</text>
<text x="79.2" y="476.7" textLength="208.5" lengthAdjust="spacingAndGlyphs">remaining S&amp;P 500 constituents</text>
</g>
<text x="592" y="495.9" font-size="11.2" fill="#333" textLength="148.5" lengthAdjust="spacingAndGlyphs">Source: LSEG Datastream</text>
</svg>
</body></html>
